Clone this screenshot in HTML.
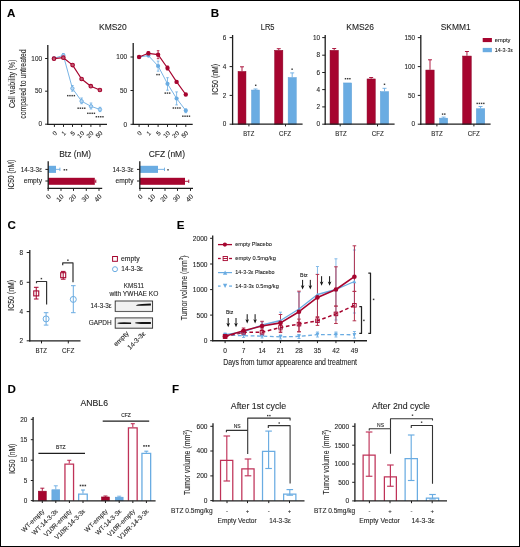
<!DOCTYPE html>
<html><head><meta charset="utf-8"><style>
html,body{margin:0;padding:0;background:#fff;}
svg{display:block;font-family:'Liberation Sans', sans-serif;-webkit-font-smoothing:antialiased;will-change:transform;}
text{stroke:#262626;stroke-width:0.1px;}
</style></head><body>
<svg width="520" height="547" viewBox="0 0 520 547">
<rect width="520" height="547" fill="#fff"/>
<rect x="0.5" y="0.5" width="519" height="546" fill="none" stroke="#000" stroke-width="1"/>
<text x="7.1" y="16.7" font-size="11.6" text-anchor="start" fill="#000" font-weight="bold">A</text>
<text x="210.8" y="16.8" font-size="11.6" text-anchor="start" fill="#000" font-weight="bold">B</text>
<text x="7.5" y="229.2" font-size="11.6" text-anchor="start" fill="#000" font-weight="bold">C</text>
<text x="7.5" y="392.5" font-size="11.6" text-anchor="start" fill="#000" font-weight="bold">D</text>
<text x="176.7" y="229.2" font-size="11.6" text-anchor="start" fill="#000" font-weight="bold">E</text>
<text x="172" y="392.5" font-size="11.6" text-anchor="start" fill="#000" font-weight="bold">F</text>
<text x="99" y="29.57" font-size="8.3" text-anchor="start" fill="#1e1e1e" textLength="27.8" lengthAdjust="spacingAndGlyphs">KMS20</text>
<line x1="47.8" y1="45" x2="47.8" y2="124.9" stroke="#1e1e1e" stroke-width="1.3" stroke-linecap="butt"/>
<line x1="47.2" y1="124.3" x2="107" y2="124.3" stroke="#1e1e1e" stroke-width="1.3" stroke-linecap="butt"/>
<line x1="45.1" y1="58.5" x2="47.8" y2="58.5" stroke="#1e1e1e" stroke-width="1" stroke-linecap="butt"/>
<text x="42" y="60.79" font-size="6.4" text-anchor="end" fill="#1e1e1e">100</text>
<line x1="45.1" y1="91.2" x2="47.8" y2="91.2" stroke="#1e1e1e" stroke-width="1" stroke-linecap="butt"/>
<text x="42" y="93.49" font-size="6.4" text-anchor="end" fill="#1e1e1e">50</text>
<line x1="45.1" y1="124.2" x2="47.8" y2="124.2" stroke="#1e1e1e" stroke-width="1" stroke-linecap="butt"/>
<text x="42" y="126.49" font-size="6.4" text-anchor="end" fill="#1e1e1e">0</text>
<line x1="54.4" y1="124.3" x2="54.4" y2="126.9" stroke="#1e1e1e" stroke-width="1" stroke-linecap="butt"/>
<text x="57.4" y="133.5" font-size="6.2" text-anchor="end" fill="#1e1e1e" transform="rotate(-45 57.4 133.5)" stroke="#333" stroke-width="0.22">0</text>
<line x1="63.5" y1="124.3" x2="63.5" y2="126.9" stroke="#1e1e1e" stroke-width="1" stroke-linecap="butt"/>
<text x="66.5" y="133.5" font-size="6.2" text-anchor="end" fill="#1e1e1e" transform="rotate(-45 66.5 133.5)" stroke="#333" stroke-width="0.22">1</text>
<line x1="72.5" y1="124.3" x2="72.5" y2="126.9" stroke="#1e1e1e" stroke-width="1" stroke-linecap="butt"/>
<text x="75.5" y="133.5" font-size="6.2" text-anchor="end" fill="#1e1e1e" transform="rotate(-45 75.5 133.5)" stroke="#333" stroke-width="0.22">5</text>
<line x1="81.6" y1="124.3" x2="81.6" y2="126.9" stroke="#1e1e1e" stroke-width="1" stroke-linecap="butt"/>
<text x="84.6" y="133.5" font-size="6.2" text-anchor="end" fill="#1e1e1e" transform="rotate(-45 84.6 133.5)" stroke="#333" stroke-width="0.22">10</text>
<line x1="90.9" y1="124.3" x2="90.9" y2="126.9" stroke="#1e1e1e" stroke-width="1" stroke-linecap="butt"/>
<text x="93.9" y="133.5" font-size="6.2" text-anchor="end" fill="#1e1e1e" transform="rotate(-45 93.9 133.5)" stroke="#333" stroke-width="0.22">20</text>
<line x1="100" y1="124.3" x2="100" y2="126.9" stroke="#1e1e1e" stroke-width="1" stroke-linecap="butt"/>
<text x="103" y="133.5" font-size="6.2" text-anchor="end" fill="#1e1e1e" transform="rotate(-45 103 133.5)" stroke="#333" stroke-width="0.22">50</text>
<line x1="63.35" y1="53.5" x2="63.35" y2="57.3" stroke="#6aace2" stroke-width="0.8" stroke-linecap="butt"/>
<line x1="62.05" y1="53.5" x2="64.65" y2="53.5" stroke="#6aace2" stroke-width="0.8" stroke-linecap="butt"/>
<line x1="62.05" y1="57.3" x2="64.65" y2="57.3" stroke="#6aace2" stroke-width="0.8" stroke-linecap="butt"/>
<line x1="72.4" y1="85.5" x2="72.4" y2="91.2" stroke="#6aace2" stroke-width="0.8" stroke-linecap="butt"/>
<line x1="71.1" y1="85.5" x2="73.7" y2="85.5" stroke="#6aace2" stroke-width="0.8" stroke-linecap="butt"/>
<line x1="71.1" y1="91.2" x2="73.7" y2="91.2" stroke="#6aace2" stroke-width="0.8" stroke-linecap="butt"/>
<line x1="81.6" y1="98" x2="81.6" y2="103.7" stroke="#6aace2" stroke-width="0.8" stroke-linecap="butt"/>
<line x1="80.3" y1="98" x2="82.9" y2="98" stroke="#6aace2" stroke-width="0.8" stroke-linecap="butt"/>
<line x1="80.3" y1="103.7" x2="82.9" y2="103.7" stroke="#6aace2" stroke-width="0.8" stroke-linecap="butt"/>
<line x1="91" y1="103" x2="91" y2="109" stroke="#6aace2" stroke-width="0.8" stroke-linecap="butt"/>
<line x1="89.7" y1="103" x2="92.3" y2="103" stroke="#6aace2" stroke-width="0.8" stroke-linecap="butt"/>
<line x1="89.7" y1="109" x2="92.3" y2="109" stroke="#6aace2" stroke-width="0.8" stroke-linecap="butt"/>
<line x1="100" y1="107.3" x2="100" y2="111.6" stroke="#6aace2" stroke-width="0.8" stroke-linecap="butt"/>
<line x1="98.7" y1="107.3" x2="101.3" y2="107.3" stroke="#6aace2" stroke-width="0.8" stroke-linecap="butt"/>
<line x1="98.7" y1="111.6" x2="101.3" y2="111.6" stroke="#6aace2" stroke-width="0.8" stroke-linecap="butt"/>
<polyline points="54,58.3 63.35,55.4 72.4,88.4 81.6,101.2 91,106.3 100,109.5" fill="none" stroke="#6aace2" stroke-width="0.9" stroke-linejoin="round"/>
<circle cx="54" cy="58.3" r="1.7" fill="#b9d8f3" stroke="#6aace2" stroke-width="0.9"/>
<circle cx="63.35" cy="55.4" r="1.7" fill="#b9d8f3" stroke="#6aace2" stroke-width="0.9"/>
<circle cx="72.4" cy="88.4" r="1.7" fill="#b9d8f3" stroke="#6aace2" stroke-width="0.9"/>
<circle cx="81.6" cy="101.2" r="1.7" fill="#b9d8f3" stroke="#6aace2" stroke-width="0.9"/>
<circle cx="91" cy="106.3" r="1.7" fill="#b9d8f3" stroke="#6aace2" stroke-width="0.9"/>
<circle cx="100" cy="109.5" r="1.7" fill="#b9d8f3" stroke="#6aace2" stroke-width="0.9"/>
<polyline points="54,58.7 63.35,57.7 72.6,65.1 81.6,79 90.8,86.2 99.9,90" fill="none" stroke="#a6052f" stroke-width="1.2" stroke-linejoin="round"/>
<circle cx="54" cy="58.7" r="1.8" fill="#c25a72" stroke="#a6052f" stroke-width="1.1"/>
<circle cx="63.35" cy="57.7" r="1.8" fill="#c25a72" stroke="#a6052f" stroke-width="1.1"/>
<circle cx="72.6" cy="65.1" r="1.8" fill="#c25a72" stroke="#a6052f" stroke-width="1.1"/>
<circle cx="81.6" cy="79" r="1.8" fill="#c25a72" stroke="#a6052f" stroke-width="1.1"/>
<circle cx="90.8" cy="86.2" r="1.8" fill="#c25a72" stroke="#a6052f" stroke-width="1.1"/>
<circle cx="99.9" cy="90" r="1.8" fill="#c25a72" stroke="#a6052f" stroke-width="1.1"/>
<rect x="67.03" y="94.93" width="1.45" height="1.45" fill="#3a3a3a"/>
<rect x="69.23" y="94.93" width="1.45" height="1.45" fill="#3a3a3a"/>
<rect x="71.43" y="94.93" width="1.45" height="1.45" fill="#3a3a3a"/>
<rect x="73.62" y="94.93" width="1.45" height="1.45" fill="#3a3a3a"/>
<rect x="77.43" y="107.48" width="1.45" height="1.45" fill="#3a3a3a"/>
<rect x="79.63" y="107.48" width="1.45" height="1.45" fill="#3a3a3a"/>
<rect x="81.83" y="107.48" width="1.45" height="1.45" fill="#3a3a3a"/>
<rect x="84.03" y="107.48" width="1.45" height="1.45" fill="#3a3a3a"/>
<rect x="87.08" y="112.58" width="1.45" height="1.45" fill="#3a3a3a"/>
<rect x="89.28" y="112.58" width="1.45" height="1.45" fill="#3a3a3a"/>
<rect x="91.48" y="112.58" width="1.45" height="1.45" fill="#3a3a3a"/>
<rect x="93.67" y="112.58" width="1.45" height="1.45" fill="#3a3a3a"/>
<rect x="95.63" y="116.03" width="1.45" height="1.45" fill="#3a3a3a"/>
<rect x="97.83" y="116.03" width="1.45" height="1.45" fill="#3a3a3a"/>
<rect x="100.03" y="116.03" width="1.45" height="1.45" fill="#3a3a3a"/>
<rect x="102.23" y="116.03" width="1.45" height="1.45" fill="#3a3a3a"/>
<line x1="133.2" y1="42.9" x2="133.2" y2="124.9" stroke="#1e1e1e" stroke-width="1.3" stroke-linecap="butt"/>
<line x1="132.6" y1="124.3" x2="192.7" y2="124.3" stroke="#1e1e1e" stroke-width="1.3" stroke-linecap="butt"/>
<line x1="130.5" y1="57" x2="133.2" y2="57" stroke="#1e1e1e" stroke-width="1" stroke-linecap="butt"/>
<text x="127" y="59.29" font-size="6.4" text-anchor="end" fill="#1e1e1e">100</text>
<line x1="130.5" y1="90.5" x2="133.2" y2="90.5" stroke="#1e1e1e" stroke-width="1" stroke-linecap="butt"/>
<text x="127" y="92.79" font-size="6.4" text-anchor="end" fill="#1e1e1e">50</text>
<line x1="130.5" y1="124.3" x2="133.2" y2="124.3" stroke="#1e1e1e" stroke-width="1" stroke-linecap="butt"/>
<text x="127" y="126.59" font-size="6.4" text-anchor="end" fill="#1e1e1e">0</text>
<line x1="139.1" y1="124.3" x2="139.1" y2="126.9" stroke="#1e1e1e" stroke-width="1" stroke-linecap="butt"/>
<text x="142.1" y="133.5" font-size="6.2" text-anchor="end" fill="#1e1e1e" transform="rotate(-45 142.1 133.5)" stroke="#333" stroke-width="0.22">0</text>
<line x1="148.4" y1="124.3" x2="148.4" y2="126.9" stroke="#1e1e1e" stroke-width="1" stroke-linecap="butt"/>
<text x="151.4" y="133.5" font-size="6.2" text-anchor="end" fill="#1e1e1e" transform="rotate(-45 151.4 133.5)" stroke="#333" stroke-width="0.22">1</text>
<line x1="158.1" y1="124.3" x2="158.1" y2="126.9" stroke="#1e1e1e" stroke-width="1" stroke-linecap="butt"/>
<text x="161.1" y="133.5" font-size="6.2" text-anchor="end" fill="#1e1e1e" transform="rotate(-45 161.1 133.5)" stroke="#333" stroke-width="0.22">5</text>
<line x1="167.5" y1="124.3" x2="167.5" y2="126.9" stroke="#1e1e1e" stroke-width="1" stroke-linecap="butt"/>
<text x="170.5" y="133.5" font-size="6.2" text-anchor="end" fill="#1e1e1e" transform="rotate(-45 170.5 133.5)" stroke="#333" stroke-width="0.22">10</text>
<line x1="176.6" y1="124.3" x2="176.6" y2="126.9" stroke="#1e1e1e" stroke-width="1" stroke-linecap="butt"/>
<text x="179.6" y="133.5" font-size="6.2" text-anchor="end" fill="#1e1e1e" transform="rotate(-45 179.6 133.5)" stroke="#333" stroke-width="0.22">20</text>
<line x1="185.8" y1="124.3" x2="185.8" y2="126.9" stroke="#1e1e1e" stroke-width="1" stroke-linecap="butt"/>
<text x="188.8" y="133.5" font-size="6.2" text-anchor="end" fill="#1e1e1e" transform="rotate(-45 188.8 133.5)" stroke="#333" stroke-width="0.22">50</text>
<line x1="158.1" y1="61.1" x2="158.1" y2="71.2" stroke="#6aace2" stroke-width="0.8" stroke-linecap="butt"/>
<line x1="156.8" y1="61.1" x2="159.4" y2="61.1" stroke="#6aace2" stroke-width="0.8" stroke-linecap="butt"/>
<line x1="156.8" y1="71.2" x2="159.4" y2="71.2" stroke="#6aace2" stroke-width="0.8" stroke-linecap="butt"/>
<line x1="167.5" y1="77.7" x2="167.5" y2="90.2" stroke="#6aace2" stroke-width="0.8" stroke-linecap="butt"/>
<line x1="166.2" y1="77.7" x2="168.8" y2="77.7" stroke="#6aace2" stroke-width="0.8" stroke-linecap="butt"/>
<line x1="166.2" y1="90.2" x2="168.8" y2="90.2" stroke="#6aace2" stroke-width="0.8" stroke-linecap="butt"/>
<line x1="176.6" y1="91.9" x2="176.6" y2="104.9" stroke="#6aace2" stroke-width="0.8" stroke-linecap="butt"/>
<line x1="175.3" y1="91.9" x2="177.9" y2="91.9" stroke="#6aace2" stroke-width="0.8" stroke-linecap="butt"/>
<line x1="175.3" y1="104.9" x2="177.9" y2="104.9" stroke="#6aace2" stroke-width="0.8" stroke-linecap="butt"/>
<line x1="185.8" y1="108.9" x2="185.8" y2="112.7" stroke="#6aace2" stroke-width="0.8" stroke-linecap="butt"/>
<line x1="184.5" y1="108.9" x2="187.1" y2="108.9" stroke="#6aace2" stroke-width="0.8" stroke-linecap="butt"/>
<line x1="184.5" y1="112.7" x2="187.1" y2="112.7" stroke="#6aace2" stroke-width="0.8" stroke-linecap="butt"/>
<polyline points="139.1,57 148.4,55.6 158.1,66 167.5,83.8 176.6,98.5 185.8,110.6" fill="none" stroke="#6aace2" stroke-width="0.9" stroke-linejoin="round"/>
<circle cx="139.1" cy="57" r="2.1" fill="#6aace2"/>
<circle cx="148.4" cy="55.6" r="2.1" fill="#6aace2"/>
<circle cx="158.1" cy="66" r="2.1" fill="#6aace2"/>
<circle cx="167.5" cy="83.8" r="2.1" fill="#6aace2"/>
<circle cx="176.6" cy="98.5" r="2.1" fill="#6aace2"/>
<circle cx="185.8" cy="110.6" r="2.1" fill="#6aace2"/>
<line x1="148.4" y1="51.8" x2="148.4" y2="54.8" stroke="#a6052f" stroke-width="0.8" stroke-linecap="butt"/>
<line x1="147.1" y1="51.8" x2="149.7" y2="51.8" stroke="#a6052f" stroke-width="0.8" stroke-linecap="butt"/>
<line x1="147.1" y1="54.8" x2="149.7" y2="54.8" stroke="#a6052f" stroke-width="0.8" stroke-linecap="butt"/>
<line x1="158.1" y1="50.7" x2="158.1" y2="58.7" stroke="#a6052f" stroke-width="0.8" stroke-linecap="butt"/>
<line x1="156.8" y1="50.7" x2="159.4" y2="50.7" stroke="#a6052f" stroke-width="0.8" stroke-linecap="butt"/>
<line x1="156.8" y1="58.7" x2="159.4" y2="58.7" stroke="#a6052f" stroke-width="0.8" stroke-linecap="butt"/>
<line x1="167.5" y1="66" x2="167.5" y2="70" stroke="#a6052f" stroke-width="0.8" stroke-linecap="butt"/>
<line x1="166.2" y1="66" x2="168.8" y2="66" stroke="#a6052f" stroke-width="0.8" stroke-linecap="butt"/>
<line x1="166.2" y1="70" x2="168.8" y2="70" stroke="#a6052f" stroke-width="0.8" stroke-linecap="butt"/>
<polyline points="139.1,57 148.4,53.3 158.1,54.7 167.5,68 176.6,81.9 185.8,94.5" fill="none" stroke="#a6052f" stroke-width="1.2" stroke-linejoin="round"/>
<circle cx="139.1" cy="57" r="2.2" fill="#a6052f"/>
<circle cx="148.4" cy="53.3" r="2.2" fill="#a6052f"/>
<circle cx="158.1" cy="54.7" r="2.2" fill="#a6052f"/>
<circle cx="167.5" cy="68" r="2.2" fill="#a6052f"/>
<circle cx="176.6" cy="81.9" r="2.2" fill="#a6052f"/>
<circle cx="185.8" cy="94.5" r="2.2" fill="#a6052f"/>
<rect x="156.23" y="73.88" width="1.45" height="1.45" fill="#3a3a3a"/>
<rect x="158.43" y="73.88" width="1.45" height="1.45" fill="#3a3a3a"/>
<rect x="164.53" y="92.38" width="1.45" height="1.45" fill="#3a3a3a"/>
<rect x="166.72" y="92.38" width="1.45" height="1.45" fill="#3a3a3a"/>
<rect x="168.93" y="92.38" width="1.45" height="1.45" fill="#3a3a3a"/>
<rect x="172.62" y="107.28" width="1.45" height="1.45" fill="#3a3a3a"/>
<rect x="174.82" y="107.28" width="1.45" height="1.45" fill="#3a3a3a"/>
<rect x="177.03" y="107.28" width="1.45" height="1.45" fill="#3a3a3a"/>
<rect x="179.22" y="107.28" width="1.45" height="1.45" fill="#3a3a3a"/>
<rect x="182.12" y="115.48" width="1.45" height="1.45" fill="#3a3a3a"/>
<rect x="184.32" y="115.48" width="1.45" height="1.45" fill="#3a3a3a"/>
<rect x="186.53" y="115.48" width="1.45" height="1.45" fill="#3a3a3a"/>
<rect x="188.72" y="115.48" width="1.45" height="1.45" fill="#3a3a3a"/>
<text x="15.3" y="107.9" font-size="8.5" text-anchor="start" fill="#1e1e1e" transform="rotate(-90 15.3 107.9)" textLength="48.3" lengthAdjust="spacingAndGlyphs">Cell viability (%)</text>
<text x="25.9" y="118.8" font-size="8.5" text-anchor="start" fill="#1e1e1e" transform="rotate(-90 25.9 118.8)" textLength="69.4" lengthAdjust="spacingAndGlyphs">compared to untreated</text>
<text x="59.2" y="156.84" font-size="8.5" text-anchor="start" fill="#1e1e1e" textLength="31.8" lengthAdjust="spacingAndGlyphs">Btz (nM)</text>
<rect x="48.2" y="165.8" width="7.8" height="7.1" fill="#6aace2"/>
<line x1="56" y1="169.35" x2="59.9" y2="169.35" stroke="#6aace2" stroke-width="0.9" stroke-linecap="butt"/>
<line x1="59.9" y1="167.65" x2="59.9" y2="171.05" stroke="#6aace2" stroke-width="0.9" stroke-linecap="butt"/>
<rect x="48.2" y="177.8" width="46.6" height="7" fill="#a6052f"/>
<line x1="94.8" y1="181.3" x2="95.8" y2="181.3" stroke="#a6052f" stroke-width="0.9" stroke-linecap="butt"/>
<line x1="95.8" y1="179.6" x2="95.8" y2="183" stroke="#a6052f" stroke-width="0.9" stroke-linecap="butt"/>
<line x1="48.2" y1="161.3" x2="48.2" y2="189" stroke="#1e1e1e" stroke-width="1.3" stroke-linecap="butt"/>
<line x1="47.6" y1="188.4" x2="102.2" y2="188.4" stroke="#1e1e1e" stroke-width="1.3" stroke-linecap="butt"/>
<line x1="45.4" y1="169.4" x2="48.2" y2="169.4" stroke="#1e1e1e" stroke-width="1" stroke-linecap="butt"/>
<line x1="45.4" y1="181" x2="48.2" y2="181" stroke="#1e1e1e" stroke-width="1" stroke-linecap="butt"/>
<line x1="48.2" y1="188.4" x2="48.2" y2="190.9" stroke="#1e1e1e" stroke-width="1" stroke-linecap="butt"/>
<text x="51.4" y="197" font-size="6.6" text-anchor="end" fill="#1e1e1e" transform="rotate(-45 51.4 197)" stroke="#333" stroke-width="0.22">0</text>
<line x1="61" y1="188.4" x2="61" y2="190.9" stroke="#1e1e1e" stroke-width="1" stroke-linecap="butt"/>
<text x="64.2" y="197" font-size="6.6" text-anchor="end" fill="#1e1e1e" transform="rotate(-45 64.2 197)" stroke="#333" stroke-width="0.22">10</text>
<line x1="73.5" y1="188.4" x2="73.5" y2="190.9" stroke="#1e1e1e" stroke-width="1" stroke-linecap="butt"/>
<text x="76.7" y="197" font-size="6.6" text-anchor="end" fill="#1e1e1e" transform="rotate(-45 76.7 197)" stroke="#333" stroke-width="0.22">20</text>
<line x1="86.3" y1="188.4" x2="86.3" y2="190.9" stroke="#1e1e1e" stroke-width="1" stroke-linecap="butt"/>
<text x="89.5" y="197" font-size="6.6" text-anchor="end" fill="#1e1e1e" transform="rotate(-45 89.5 197)" stroke="#333" stroke-width="0.22">30</text>
<line x1="99" y1="188.4" x2="99" y2="190.9" stroke="#1e1e1e" stroke-width="1" stroke-linecap="butt"/>
<text x="102.2" y="197" font-size="6.6" text-anchor="end" fill="#1e1e1e" transform="rotate(-45 102.2 197)" stroke="#333" stroke-width="0.22">40</text>
<rect x="63.58" y="169.08" width="1.45" height="1.45" fill="#3a3a3a"/>
<rect x="65.78" y="169.08" width="1.45" height="1.45" fill="#3a3a3a"/>
<text x="20.7" y="171.56" font-size="6.3" text-anchor="start" fill="#1e1e1e" textLength="21.3" lengthAdjust="spacingAndGlyphs">14-3-3ε</text>
<text x="23.8" y="183.26" font-size="6.3" text-anchor="start" fill="#1e1e1e" textLength="18.2" lengthAdjust="spacingAndGlyphs">empty</text>
<text x="14.4" y="189.4" font-size="8.7" text-anchor="start" fill="#1e1e1e" transform="rotate(-90 14.4 189.4)" textLength="29.6" lengthAdjust="spacingAndGlyphs">IC50 (nM)</text>
<text x="148.75" y="156.84" font-size="8.5" text-anchor="start" fill="#1e1e1e" textLength="36.25" lengthAdjust="spacingAndGlyphs">CFZ (nM)</text>
<rect x="139.8" y="165.8" width="18.2" height="7.1" fill="#6aace2"/>
<line x1="158" y1="169.35" x2="164.5" y2="169.35" stroke="#6aace2" stroke-width="0.9" stroke-linecap="butt"/>
<line x1="164.5" y1="167.65" x2="164.5" y2="171.05" stroke="#6aace2" stroke-width="0.9" stroke-linecap="butt"/>
<rect x="139.8" y="177.8" width="45.2" height="7" fill="#a6052f"/>
<line x1="185" y1="181.3" x2="188.75" y2="181.3" stroke="#a6052f" stroke-width="0.9" stroke-linecap="butt"/>
<line x1="188.75" y1="179.6" x2="188.75" y2="183" stroke="#a6052f" stroke-width="0.9" stroke-linecap="butt"/>
<line x1="139.8" y1="161.3" x2="139.8" y2="189" stroke="#1e1e1e" stroke-width="1.3" stroke-linecap="butt"/>
<line x1="139.2" y1="188.4" x2="193" y2="188.4" stroke="#1e1e1e" stroke-width="1.3" stroke-linecap="butt"/>
<line x1="137" y1="169.4" x2="139.8" y2="169.4" stroke="#1e1e1e" stroke-width="1" stroke-linecap="butt"/>
<line x1="137" y1="181" x2="139.8" y2="181" stroke="#1e1e1e" stroke-width="1" stroke-linecap="butt"/>
<line x1="140" y1="188.4" x2="140" y2="190.9" stroke="#1e1e1e" stroke-width="1" stroke-linecap="butt"/>
<text x="143.2" y="197" font-size="6.6" text-anchor="end" fill="#1e1e1e" transform="rotate(-45 143.2 197)" stroke="#333" stroke-width="0.22">0</text>
<line x1="152.5" y1="188.4" x2="152.5" y2="190.9" stroke="#1e1e1e" stroke-width="1" stroke-linecap="butt"/>
<text x="155.7" y="197" font-size="6.6" text-anchor="end" fill="#1e1e1e" transform="rotate(-45 155.7 197)" stroke="#333" stroke-width="0.22">10</text>
<line x1="165" y1="188.4" x2="165" y2="190.9" stroke="#1e1e1e" stroke-width="1" stroke-linecap="butt"/>
<text x="168.2" y="197" font-size="6.6" text-anchor="end" fill="#1e1e1e" transform="rotate(-45 168.2 197)" stroke="#333" stroke-width="0.22">20</text>
<line x1="177.5" y1="188.4" x2="177.5" y2="190.9" stroke="#1e1e1e" stroke-width="1" stroke-linecap="butt"/>
<text x="180.7" y="197" font-size="6.6" text-anchor="end" fill="#1e1e1e" transform="rotate(-45 180.7 197)" stroke="#333" stroke-width="0.22">30</text>
<line x1="190.5" y1="188.4" x2="190.5" y2="190.9" stroke="#1e1e1e" stroke-width="1" stroke-linecap="butt"/>
<text x="193.7" y="197" font-size="6.6" text-anchor="end" fill="#1e1e1e" transform="rotate(-45 193.7 197)" stroke="#333" stroke-width="0.22">40</text>
<rect x="167.28" y="169.08" width="1.45" height="1.45" fill="#3a3a3a"/>
<text x="112.5" y="171.56" font-size="6.3" text-anchor="start" fill="#1e1e1e" textLength="21" lengthAdjust="spacingAndGlyphs">14-3-3ε</text>
<text x="115.5" y="183.26" font-size="6.3" text-anchor="start" fill="#1e1e1e" textLength="18" lengthAdjust="spacingAndGlyphs">empty</text>
<rect x="238.05" y="71.45" width="7.9" height="52.75" fill="#a6052f" stroke="#8c0026" stroke-width="0.5"/>
<line x1="242" y1="71.2" x2="242" y2="66.8" stroke="#a6052f" stroke-width="0.9" stroke-linecap="butt"/>
<line x1="240" y1="66.8" x2="244" y2="66.8" stroke="#a6052f" stroke-width="0.9" stroke-linecap="butt"/>
<rect x="251.55" y="90.05" width="7.9" height="34.15" fill="#6aace2" stroke="#5d9fd8" stroke-width="0.5"/>
<line x1="255.5" y1="89.8" x2="255.5" y2="89" stroke="#6aace2" stroke-width="0.9" stroke-linecap="butt"/>
<line x1="253.5" y1="89" x2="257.5" y2="89" stroke="#6aace2" stroke-width="0.9" stroke-linecap="butt"/>
<rect x="274.65" y="50.35" width="8.2" height="73.85" fill="#a6052f" stroke="#8c0026" stroke-width="0.5"/>
<line x1="278.75" y1="50.1" x2="278.75" y2="48.7" stroke="#a6052f" stroke-width="0.9" stroke-linecap="butt"/>
<line x1="276.75" y1="48.7" x2="280.75" y2="48.7" stroke="#a6052f" stroke-width="0.9" stroke-linecap="butt"/>
<rect x="288.15" y="77.55" width="8.1" height="46.65" fill="#6aace2" stroke="#5d9fd8" stroke-width="0.5"/>
<line x1="292.2" y1="77.3" x2="292.2" y2="72.9" stroke="#6aace2" stroke-width="0.9" stroke-linecap="butt"/>
<line x1="290.2" y1="72.9" x2="294.2" y2="72.9" stroke="#6aace2" stroke-width="0.9" stroke-linecap="butt"/>
<line x1="232.6" y1="35" x2="232.6" y2="124.8" stroke="#1e1e1e" stroke-width="1.3" stroke-linecap="butt"/>
<line x1="232" y1="124.2" x2="302.6" y2="124.2" stroke="#1e1e1e" stroke-width="1.3" stroke-linecap="butt"/>
<line x1="229.6" y1="37.6" x2="232.6" y2="37.6" stroke="#1e1e1e" stroke-width="1" stroke-linecap="butt"/>
<text x="226.3" y="39.89" font-size="6.4" text-anchor="end" fill="#1e1e1e">6</text>
<line x1="229.6" y1="66.6" x2="232.6" y2="66.6" stroke="#1e1e1e" stroke-width="1" stroke-linecap="butt"/>
<text x="226.3" y="68.89" font-size="6.4" text-anchor="end" fill="#1e1e1e">4</text>
<line x1="229.6" y1="95.4" x2="232.6" y2="95.4" stroke="#1e1e1e" stroke-width="1" stroke-linecap="butt"/>
<text x="226.3" y="97.69" font-size="6.4" text-anchor="end" fill="#1e1e1e">2</text>
<line x1="229.6" y1="124.2" x2="232.6" y2="124.2" stroke="#1e1e1e" stroke-width="1" stroke-linecap="butt"/>
<text x="226.3" y="126.49" font-size="6.4" text-anchor="end" fill="#1e1e1e">0</text>
<line x1="248.9" y1="124.2" x2="248.9" y2="126.4" stroke="#1e1e1e" stroke-width="1" stroke-linecap="butt"/>
<line x1="285.5" y1="124.2" x2="285.5" y2="126.4" stroke="#1e1e1e" stroke-width="1" stroke-linecap="butt"/>
<text x="243.2" y="136.39" font-size="6.4" text-anchor="start" fill="#1e1e1e" textLength="11.1" lengthAdjust="spacingAndGlyphs">BTZ</text>
<text x="279" y="136.39" font-size="6.4" text-anchor="start" fill="#1e1e1e" textLength="12.1" lengthAdjust="spacingAndGlyphs">CFZ</text>
<rect x="254.97" y="84.58" width="1.45" height="1.45" fill="#3a3a3a"/>
<rect x="291.38" y="68.48" width="1.45" height="1.45" fill="#3a3a3a"/>
<text x="260.75" y="29.57" font-size="8.3" text-anchor="start" fill="#1e1e1e" textLength="13.75" lengthAdjust="spacingAndGlyphs">LR5</text>
<text x="218.2" y="94.7" font-size="9" text-anchor="start" fill="#1e1e1e" transform="rotate(-90 218.2 94.7)" textLength="30.9" lengthAdjust="spacingAndGlyphs">IC50 (nM)</text>
<rect x="330.05" y="50.35" width="8.3" height="73.85" fill="#a6052f" stroke="#8c0026" stroke-width="0.5"/>
<line x1="334.2" y1="50.1" x2="334.2" y2="48.5" stroke="#a6052f" stroke-width="0.9" stroke-linecap="butt"/>
<line x1="332.2" y1="48.5" x2="336.2" y2="48.5" stroke="#a6052f" stroke-width="0.9" stroke-linecap="butt"/>
<rect x="343.55" y="82.95" width="8.1" height="41.25" fill="#6aace2" stroke="#5d9fd8" stroke-width="0.5"/>
<rect x="367.05" y="78.95" width="8.2" height="45.25" fill="#a6052f" stroke="#8c0026" stroke-width="0.5"/>
<line x1="371.15" y1="78.7" x2="371.15" y2="77.5" stroke="#a6052f" stroke-width="0.9" stroke-linecap="butt"/>
<line x1="369.15" y1="77.5" x2="373.15" y2="77.5" stroke="#a6052f" stroke-width="0.9" stroke-linecap="butt"/>
<rect x="380.35" y="91.65" width="8.3" height="32.55" fill="#6aace2" stroke="#5d9fd8" stroke-width="0.5"/>
<line x1="384.5" y1="91.4" x2="384.5" y2="88.3" stroke="#6aace2" stroke-width="0.9" stroke-linecap="butt"/>
<line x1="382.5" y1="88.3" x2="386.5" y2="88.3" stroke="#6aace2" stroke-width="0.9" stroke-linecap="butt"/>
<line x1="325.2" y1="35" x2="325.2" y2="124.8" stroke="#1e1e1e" stroke-width="1.3" stroke-linecap="butt"/>
<line x1="324.6" y1="124.2" x2="394.6" y2="124.2" stroke="#1e1e1e" stroke-width="1.3" stroke-linecap="butt"/>
<line x1="322.2" y1="37.6" x2="325.2" y2="37.6" stroke="#1e1e1e" stroke-width="1" stroke-linecap="butt"/>
<text x="320.1" y="39.89" font-size="6.4" text-anchor="end" fill="#1e1e1e">10</text>
<line x1="322.2" y1="55.2" x2="325.2" y2="55.2" stroke="#1e1e1e" stroke-width="1" stroke-linecap="butt"/>
<text x="320.1" y="57.49" font-size="6.4" text-anchor="end" fill="#1e1e1e">8</text>
<line x1="322.2" y1="72.5" x2="325.2" y2="72.5" stroke="#1e1e1e" stroke-width="1" stroke-linecap="butt"/>
<text x="320.1" y="74.79" font-size="6.4" text-anchor="end" fill="#1e1e1e">6</text>
<line x1="322.2" y1="89.6" x2="325.2" y2="89.6" stroke="#1e1e1e" stroke-width="1" stroke-linecap="butt"/>
<text x="320.1" y="91.89" font-size="6.4" text-anchor="end" fill="#1e1e1e">4</text>
<line x1="322.2" y1="106.9" x2="325.2" y2="106.9" stroke="#1e1e1e" stroke-width="1" stroke-linecap="butt"/>
<text x="320.1" y="109.19" font-size="6.4" text-anchor="end" fill="#1e1e1e">2</text>
<line x1="322.2" y1="124.2" x2="325.2" y2="124.2" stroke="#1e1e1e" stroke-width="1" stroke-linecap="butt"/>
<text x="320.1" y="126.49" font-size="6.4" text-anchor="end" fill="#1e1e1e">0</text>
<line x1="340.2" y1="124.2" x2="340.2" y2="126.4" stroke="#1e1e1e" stroke-width="1" stroke-linecap="butt"/>
<line x1="377.5" y1="124.2" x2="377.5" y2="126.4" stroke="#1e1e1e" stroke-width="1" stroke-linecap="butt"/>
<text x="335.2" y="136.39" font-size="6.4" text-anchor="start" fill="#1e1e1e" textLength="11.5" lengthAdjust="spacingAndGlyphs">BTZ</text>
<text x="371.8" y="136.39" font-size="6.4" text-anchor="start" fill="#1e1e1e" textLength="12.1" lengthAdjust="spacingAndGlyphs">CFZ</text>
<rect x="344.77" y="77.98" width="1.45" height="1.45" fill="#3a3a3a"/>
<rect x="346.97" y="77.98" width="1.45" height="1.45" fill="#3a3a3a"/>
<rect x="349.17" y="77.98" width="1.45" height="1.45" fill="#3a3a3a"/>
<rect x="383.77" y="83.58" width="1.45" height="1.45" fill="#3a3a3a"/>
<text x="346.25" y="29.57" font-size="8.3" text-anchor="start" fill="#1e1e1e" textLength="27.75" lengthAdjust="spacingAndGlyphs">KMS26</text>
<rect x="425.85" y="70.05" width="8.3" height="54.15" fill="#a6052f" stroke="#8c0026" stroke-width="0.5"/>
<line x1="430" y1="69.8" x2="430" y2="59.8" stroke="#a6052f" stroke-width="0.9" stroke-linecap="butt"/>
<line x1="428" y1="59.8" x2="432" y2="59.8" stroke="#a6052f" stroke-width="0.9" stroke-linecap="butt"/>
<rect x="439.55" y="118.15" width="8.1" height="6.05" fill="#6aace2" stroke="#5d9fd8" stroke-width="0.5"/>
<line x1="443.6" y1="117.9" x2="443.6" y2="117.1" stroke="#6aace2" stroke-width="0.9" stroke-linecap="butt"/>
<line x1="441.6" y1="117.1" x2="445.6" y2="117.1" stroke="#6aace2" stroke-width="0.9" stroke-linecap="butt"/>
<rect x="462.65" y="56.05" width="8.6" height="68.15" fill="#a6052f" stroke="#8c0026" stroke-width="0.5"/>
<line x1="466.95" y1="55.8" x2="466.95" y2="51.5" stroke="#a6052f" stroke-width="0.9" stroke-linecap="butt"/>
<line x1="464.95" y1="51.5" x2="468.95" y2="51.5" stroke="#a6052f" stroke-width="0.9" stroke-linecap="butt"/>
<rect x="476.35" y="108.75" width="8.4" height="15.45" fill="#6aace2" stroke="#5d9fd8" stroke-width="0.5"/>
<line x1="480.55" y1="108.5" x2="480.55" y2="106.5" stroke="#6aace2" stroke-width="0.9" stroke-linecap="butt"/>
<line x1="478.55" y1="106.5" x2="482.55" y2="106.5" stroke="#6aace2" stroke-width="0.9" stroke-linecap="butt"/>
<line x1="420.8" y1="35" x2="420.8" y2="124.8" stroke="#1e1e1e" stroke-width="1.3" stroke-linecap="butt"/>
<line x1="420.2" y1="124.2" x2="490.6" y2="124.2" stroke="#1e1e1e" stroke-width="1.3" stroke-linecap="butt"/>
<line x1="417.8" y1="37.6" x2="420.8" y2="37.6" stroke="#1e1e1e" stroke-width="1" stroke-linecap="butt"/>
<text x="415.1" y="39.89" font-size="6.4" text-anchor="end" fill="#1e1e1e">150</text>
<line x1="417.8" y1="66.6" x2="420.8" y2="66.6" stroke="#1e1e1e" stroke-width="1" stroke-linecap="butt"/>
<text x="415.1" y="68.89" font-size="6.4" text-anchor="end" fill="#1e1e1e">100</text>
<line x1="417.8" y1="95.4" x2="420.8" y2="95.4" stroke="#1e1e1e" stroke-width="1" stroke-linecap="butt"/>
<text x="415.1" y="97.69" font-size="6.4" text-anchor="end" fill="#1e1e1e">50</text>
<line x1="417.8" y1="124.2" x2="420.8" y2="124.2" stroke="#1e1e1e" stroke-width="1" stroke-linecap="butt"/>
<text x="415.1" y="126.49" font-size="6.4" text-anchor="end" fill="#1e1e1e">0</text>
<line x1="436.9" y1="124.2" x2="436.9" y2="126.4" stroke="#1e1e1e" stroke-width="1" stroke-linecap="butt"/>
<line x1="473.9" y1="124.2" x2="473.9" y2="126.4" stroke="#1e1e1e" stroke-width="1" stroke-linecap="butt"/>
<text x="431.2" y="136.39" font-size="6.4" text-anchor="start" fill="#1e1e1e" textLength="11.5" lengthAdjust="spacingAndGlyphs">BTZ</text>
<text x="467.8" y="136.39" font-size="6.4" text-anchor="start" fill="#1e1e1e" textLength="12.1" lengthAdjust="spacingAndGlyphs">CFZ</text>
<rect x="441.87" y="113.38" width="1.45" height="1.45" fill="#3a3a3a"/>
<rect x="444.07" y="113.38" width="1.45" height="1.45" fill="#3a3a3a"/>
<rect x="476.47" y="102.68" width="1.45" height="1.45" fill="#3a3a3a"/>
<rect x="478.67" y="102.68" width="1.45" height="1.45" fill="#3a3a3a"/>
<rect x="480.87" y="102.68" width="1.45" height="1.45" fill="#3a3a3a"/>
<rect x="483.07" y="102.68" width="1.45" height="1.45" fill="#3a3a3a"/>
<text x="440.75" y="29.57" font-size="8.3" text-anchor="start" fill="#1e1e1e" textLength="30" lengthAdjust="spacingAndGlyphs">SKMM1</text>
<rect x="482.7" y="38" width="9.2" height="4.1" fill="#a6052f"/>
<rect x="482.7" y="47.9" width="9.2" height="4.3" fill="#6aace2"/>
<text x="494.8" y="42.13" font-size="5.4" text-anchor="start" fill="#1e1e1e" textLength="15.6" lengthAdjust="spacingAndGlyphs">empty</text>
<text x="494.8" y="52.03" font-size="5.4" text-anchor="start" fill="#1e1e1e" textLength="18" lengthAdjust="spacingAndGlyphs">14-3-3ε</text>
<line x1="29.8" y1="250.1" x2="29.8" y2="341.4" stroke="#1e1e1e" stroke-width="1.3" stroke-linecap="butt"/>
<line x1="29.2" y1="340.8" x2="80.5" y2="340.8" stroke="#1e1e1e" stroke-width="1.3" stroke-linecap="butt"/>
<line x1="26.7" y1="252.5" x2="29.8" y2="252.5" stroke="#1e1e1e" stroke-width="1" stroke-linecap="butt"/>
<text x="23.1" y="254.79" font-size="6.4" text-anchor="end" fill="#1e1e1e">8</text>
<line x1="26.7" y1="282.3" x2="29.8" y2="282.3" stroke="#1e1e1e" stroke-width="1" stroke-linecap="butt"/>
<text x="23.1" y="284.59" font-size="6.4" text-anchor="end" fill="#1e1e1e">6</text>
<line x1="26.7" y1="311.6" x2="29.8" y2="311.6" stroke="#1e1e1e" stroke-width="1" stroke-linecap="butt"/>
<text x="23.1" y="313.89" font-size="6.4" text-anchor="end" fill="#1e1e1e">4</text>
<line x1="26.7" y1="340.8" x2="29.8" y2="340.8" stroke="#1e1e1e" stroke-width="1" stroke-linecap="butt"/>
<text x="23.1" y="343.09" font-size="6.4" text-anchor="end" fill="#1e1e1e">2</text>
<line x1="41.5" y1="340.8" x2="41.5" y2="343.4" stroke="#1e1e1e" stroke-width="1" stroke-linecap="butt"/>
<line x1="68.3" y1="340.8" x2="68.3" y2="343.4" stroke="#1e1e1e" stroke-width="1" stroke-linecap="butt"/>
<text x="35.5" y="352.79" font-size="6.4" text-anchor="start" fill="#1e1e1e" textLength="11.5" lengthAdjust="spacingAndGlyphs">BTZ</text>
<text x="62" y="352.79" font-size="6.4" text-anchor="start" fill="#1e1e1e" textLength="12.4" lengthAdjust="spacingAndGlyphs">CFZ</text>
<text x="14.4" y="310.8" font-size="8.7" text-anchor="start" fill="#1e1e1e" transform="rotate(-90 14.4 310.8)" textLength="31" lengthAdjust="spacingAndGlyphs">IC50 (nM)</text>
<line x1="36.25" y1="287.3" x2="36.25" y2="299" stroke="#a6052f" stroke-width="1" stroke-linecap="butt"/>
<line x1="33.95" y1="287.3" x2="38.55" y2="287.3" stroke="#a6052f" stroke-width="1" stroke-linecap="butt"/>
<line x1="33.95" y1="299" x2="38.55" y2="299" stroke="#a6052f" stroke-width="1" stroke-linecap="butt"/>
<rect x="33.75" y="290.9" width="5" height="5" fill="none" stroke="#a6052f" stroke-width="1.1"/>
<line x1="63.2" y1="271.4" x2="63.2" y2="279.2" stroke="#a6052f" stroke-width="1" stroke-linecap="butt"/>
<line x1="60.9" y1="271.4" x2="65.5" y2="271.4" stroke="#a6052f" stroke-width="1" stroke-linecap="butt"/>
<line x1="60.9" y1="279.2" x2="65.5" y2="279.2" stroke="#a6052f" stroke-width="1" stroke-linecap="butt"/>
<rect x="60.7" y="272.7" width="5" height="5" fill="none" stroke="#a6052f" stroke-width="1.1"/>
<line x1="46.1" y1="312.7" x2="46.1" y2="325.1" stroke="#6aace2" stroke-width="1" stroke-linecap="butt"/>
<line x1="43.8" y1="312.7" x2="48.4" y2="312.7" stroke="#6aace2" stroke-width="1" stroke-linecap="butt"/>
<line x1="43.8" y1="325.1" x2="48.4" y2="325.1" stroke="#6aace2" stroke-width="1" stroke-linecap="butt"/>
<circle cx="46.1" cy="318.9" r="3" fill="none" stroke="#6aace2" stroke-width="1"/>
<line x1="73.3" y1="285.7" x2="73.3" y2="312.7" stroke="#6aace2" stroke-width="1" stroke-linecap="butt"/>
<line x1="71" y1="285.7" x2="75.6" y2="285.7" stroke="#6aace2" stroke-width="1" stroke-linecap="butt"/>
<line x1="71" y1="312.7" x2="75.6" y2="312.7" stroke="#6aace2" stroke-width="1" stroke-linecap="butt"/>
<circle cx="73.3" cy="299.4" r="3" fill="none" stroke="#6aace2" stroke-width="1"/>
<polyline points="36.5,283.3 36.5,281.5 46.6,281.5 46.6,304.4" fill="none" stroke="#333" stroke-width="1.2" stroke-linejoin="round"/>
<polyline points="62.7,265.2 62.7,262.9 73,262.9 73,282.3" fill="none" stroke="#333" stroke-width="1.2" stroke-linejoin="round"/>
<rect x="40.67" y="277.88" width="1.45" height="1.45" fill="#3a3a3a"/>
<rect x="67.18" y="259.47" width="1.45" height="1.45" fill="#3a3a3a"/>
<rect x="112.6" y="256.5" width="4.8" height="4.8" fill="none" stroke="#a6052f" stroke-width="1"/>
<circle cx="115" cy="269.2" r="2.5" fill="none" stroke="#6aace2" stroke-width="1"/>
<text x="121" y="261.09" font-size="6.4" text-anchor="start" fill="#1e1e1e" textLength="18.6" lengthAdjust="spacingAndGlyphs">empty</text>
<text x="121.3" y="271.49" font-size="6.4" text-anchor="start" fill="#1e1e1e" textLength="21.7" lengthAdjust="spacingAndGlyphs">14-3-3ε</text>
<text x="123.8" y="288.49" font-size="6.4" text-anchor="start" fill="#1e1e1e" textLength="20.2" lengthAdjust="spacingAndGlyphs">KMS11</text>
<text x="109.4" y="296.09" font-size="6.4" text-anchor="start" fill="#1e1e1e" textLength="48.9" lengthAdjust="spacingAndGlyphs">with YWHAE KO</text>
<text x="90.6" y="307.69" font-size="6.4" text-anchor="start" fill="#1e1e1e" textLength="21.1" lengthAdjust="spacingAndGlyphs">14-3-3ε</text>
<text x="88.7" y="325.29" font-size="6.4" text-anchor="start" fill="#1e1e1e" textLength="23" lengthAdjust="spacingAndGlyphs">GAPDH</text>
<defs><linearGradient id="bl1" x1="0" y1="0" x2="0" y2="1"><stop offset="0" stop-color="#e6e6e6"/><stop offset="1" stop-color="#f4f4f4"/></linearGradient></defs>
<rect x="115.2" y="301" width="37.4" height="10.4" fill="#f1f1f1" stroke="#2a2a2a" stroke-width="0.9"/>
<rect x="115.2" y="317.9" width="37.4" height="10.3" fill="#efefef" stroke="#2a2a2a" stroke-width="0.9"/>
<line x1="115.6" y1="311.6" x2="152.6" y2="311.6" stroke="#777" stroke-width="0.6" stroke-linecap="butt"/>
<line x1="115.6" y1="328.4" x2="152.6" y2="328.4" stroke="#777" stroke-width="0.6" stroke-linecap="butt"/>
<path d="M135.8,305.6 Q137,304.3 142,304.0 L150.8,303.5 L151,305.5 L142,305.7 Q138,305.9 135.8,305.6 Z" fill="#111"/>
<path d="M117.2,323.2 Q118,322.3 124,322.3 L131,322.4 Q131.4,323.1 131,323.9 L124,324.0 Q118,324.1 117.2,323.2 Z" fill="#141414"/>
<path d="M134.8,323.1 Q135.6,322.1 142,322.1 L150.8,322.0 Q151.2,322.9 150.8,323.9 L142,323.9 Q135.6,324.0 134.8,323.1 Z" fill="#141414"/>
<text x="129.2" y="333.9" font-size="6.7" text-anchor="end" fill="#1e1e1e" transform="rotate(-45 129.2 333.9)" stroke="#333" stroke-width="0.22">empty</text>
<text x="145.8" y="334.3" font-size="6.7" text-anchor="end" fill="#1e1e1e" transform="rotate(-45 145.8 334.3)" stroke="#333" stroke-width="0.22">14-3-3ε</text>
<text x="80.5" y="406.01" font-size="8.4" text-anchor="start" fill="#1e1e1e" textLength="27.5" lengthAdjust="spacingAndGlyphs">ANBL6</text>
<text x="14.6" y="473.8" font-size="8.7" text-anchor="start" fill="#1e1e1e" transform="rotate(-90 14.6 473.8)" textLength="30.1" lengthAdjust="spacingAndGlyphs">IC50 (nM)</text>
<rect x="38.25" y="491.15" width="8.1" height="9.65" fill="#a6052f" stroke="#8c0026" stroke-width="0.5"/>
<line x1="42.3" y1="490.9" x2="42.3" y2="488.2" stroke="#a6052f" stroke-width="0.9" stroke-linecap="butt"/>
<line x1="40.3" y1="488.2" x2="44.3" y2="488.2" stroke="#a6052f" stroke-width="0.9" stroke-linecap="butt"/>
<rect x="51.85" y="489.75" width="7.9" height="11.05" fill="#6aace2" stroke="#5d9fd8" stroke-width="0.5"/>
<line x1="55.8" y1="489.5" x2="55.8" y2="485.8" stroke="#6aace2" stroke-width="0.9" stroke-linecap="butt"/>
<line x1="53.8" y1="485.8" x2="57.8" y2="485.8" stroke="#6aace2" stroke-width="0.9" stroke-linecap="butt"/>
<path d="M64.95,500.8 L64.95,464.05 L73.55,464.05 L73.55,500.8" fill="none" stroke="#bf3258" stroke-width="1.3"/>
<line x1="69.25" y1="463.4" x2="69.25" y2="460.3" stroke="#bf3258" stroke-width="1.1" stroke-linecap="butt"/>
<line x1="67.25" y1="460.3" x2="71.25" y2="460.3" stroke="#bf3258" stroke-width="1.1" stroke-linecap="butt"/>
<path d="M78.65,500.8 L78.65,494.05 L87.25,494.05 L87.25,500.8" fill="none" stroke="#6aace2" stroke-width="1.3"/>
<line x1="82.95" y1="493.4" x2="82.95" y2="490" stroke="#6aace2" stroke-width="1.1" stroke-linecap="butt"/>
<line x1="80.95" y1="490" x2="84.95" y2="490" stroke="#6aace2" stroke-width="1.1" stroke-linecap="butt"/>
<rect x="101.45" y="496.95" width="8" height="3.85" fill="#a6052f" stroke="#8c0026" stroke-width="0.5"/>
<line x1="105.45" y1="496.7" x2="105.45" y2="496" stroke="#a6052f" stroke-width="0.9" stroke-linecap="butt"/>
<line x1="103.45" y1="496" x2="107.45" y2="496" stroke="#a6052f" stroke-width="0.9" stroke-linecap="butt"/>
<rect x="115.25" y="497.15" width="7.9" height="3.65" fill="#6aace2" stroke="#5d9fd8" stroke-width="0.5"/>
<line x1="119.2" y1="496.9" x2="119.2" y2="496.2" stroke="#6aace2" stroke-width="0.9" stroke-linecap="butt"/>
<line x1="117.2" y1="496.2" x2="121.2" y2="496.2" stroke="#6aace2" stroke-width="0.9" stroke-linecap="butt"/>
<path d="M128.45,500.8 L128.45,427.95 L137.15,427.95 L137.15,500.8" fill="none" stroke="#bf3258" stroke-width="1.3"/>
<line x1="132.8" y1="427.3" x2="132.8" y2="423.7" stroke="#bf3258" stroke-width="1.1" stroke-linecap="butt"/>
<line x1="130.8" y1="423.7" x2="134.8" y2="423.7" stroke="#bf3258" stroke-width="1.1" stroke-linecap="butt"/>
<path d="M141.95,500.8 L141.95,453.45 L150.65,453.45 L150.65,500.8" fill="none" stroke="#6aace2" stroke-width="1.3"/>
<line x1="146.3" y1="452.8" x2="146.3" y2="451.2" stroke="#6aace2" stroke-width="1.1" stroke-linecap="butt"/>
<line x1="144.3" y1="451.2" x2="148.3" y2="451.2" stroke="#6aace2" stroke-width="1.1" stroke-linecap="butt"/>
<rect x="79.7" y="484.7" width="1.6" height="1.6" fill="#3a3a3a"/>
<rect x="82.1" y="484.7" width="1.6" height="1.6" fill="#3a3a3a"/>
<rect x="84.5" y="484.7" width="1.6" height="1.6" fill="#3a3a3a"/>
<rect x="143.2" y="445.1" width="1.6" height="1.6" fill="#3a3a3a"/>
<rect x="145.6" y="445.1" width="1.6" height="1.6" fill="#3a3a3a"/>
<rect x="148" y="445.1" width="1.6" height="1.6" fill="#3a3a3a"/>
<line x1="33.1" y1="416.9" x2="33.1" y2="501.4" stroke="#1e1e1e" stroke-width="1.3" stroke-linecap="butt"/>
<line x1="32.5" y1="500.8" x2="155.6" y2="500.8" stroke="#1e1e1e" stroke-width="1.3" stroke-linecap="butt"/>
<line x1="30.8" y1="419.3" x2="33.1" y2="419.3" stroke="#1e1e1e" stroke-width="1" stroke-linecap="butt"/>
<text x="27.4" y="421.59" font-size="6.4" text-anchor="end" fill="#1e1e1e">20</text>
<line x1="30.8" y1="439.7" x2="33.1" y2="439.7" stroke="#1e1e1e" stroke-width="1" stroke-linecap="butt"/>
<text x="27.4" y="441.99" font-size="6.4" text-anchor="end" fill="#1e1e1e">15</text>
<line x1="30.8" y1="460.2" x2="33.1" y2="460.2" stroke="#1e1e1e" stroke-width="1" stroke-linecap="butt"/>
<text x="27.4" y="462.49" font-size="6.4" text-anchor="end" fill="#1e1e1e">10</text>
<line x1="30.8" y1="480.5" x2="33.1" y2="480.5" stroke="#1e1e1e" stroke-width="1" stroke-linecap="butt"/>
<text x="27.4" y="482.79" font-size="6.4" text-anchor="end" fill="#1e1e1e">5</text>
<line x1="30.8" y1="500.6" x2="33.1" y2="500.6" stroke="#1e1e1e" stroke-width="1" stroke-linecap="butt"/>
<text x="27.4" y="502.89" font-size="6.4" text-anchor="end" fill="#1e1e1e">0</text>
<line x1="42.3" y1="500.8" x2="42.3" y2="503" stroke="#1e1e1e" stroke-width="1" stroke-linecap="butt"/>
<text x="44.9" y="511.7" font-size="6.5" text-anchor="end" fill="#1e1e1e" transform="rotate(-45 44.9 511.7)" stroke="#333" stroke-width="0.22">WT-empty</text>
<line x1="55.8" y1="500.8" x2="55.8" y2="503" stroke="#1e1e1e" stroke-width="1" stroke-linecap="butt"/>
<text x="58.4" y="511.7" font-size="6.5" text-anchor="end" fill="#1e1e1e" transform="rotate(-45 58.4 511.7)" stroke="#333" stroke-width="0.22">WT-14-3-3ε</text>
<line x1="69.4" y1="500.8" x2="69.4" y2="503" stroke="#1e1e1e" stroke-width="1" stroke-linecap="butt"/>
<text x="72" y="511.7" font-size="6.5" text-anchor="end" fill="#1e1e1e" transform="rotate(-45 72 511.7)" stroke="#333" stroke-width="0.22">V10R-empty</text>
<line x1="83" y1="500.8" x2="83" y2="503" stroke="#1e1e1e" stroke-width="1" stroke-linecap="butt"/>
<text x="85.6" y="511.7" font-size="6.5" text-anchor="end" fill="#1e1e1e" transform="rotate(-45 85.6 511.7)" stroke="#333" stroke-width="0.22">V10R-14-3-3ε</text>
<line x1="105.45" y1="500.8" x2="105.45" y2="503" stroke="#1e1e1e" stroke-width="1" stroke-linecap="butt"/>
<text x="108.05" y="511.7" font-size="6.5" text-anchor="end" fill="#1e1e1e" transform="rotate(-45 108.05 511.7)" stroke="#333" stroke-width="0.22">WT-empty</text>
<line x1="119.2" y1="500.8" x2="119.2" y2="503" stroke="#1e1e1e" stroke-width="1" stroke-linecap="butt"/>
<text x="121.8" y="511.7" font-size="6.5" text-anchor="end" fill="#1e1e1e" transform="rotate(-45 121.8 511.7)" stroke="#333" stroke-width="0.22">WT-14-3-3ε</text>
<line x1="132.85" y1="500.8" x2="132.85" y2="503" stroke="#1e1e1e" stroke-width="1" stroke-linecap="butt"/>
<text x="135.45" y="511.7" font-size="6.5" text-anchor="end" fill="#1e1e1e" transform="rotate(-45 135.45 511.7)" stroke="#333" stroke-width="0.22">V10R-empty</text>
<line x1="146.4" y1="500.8" x2="146.4" y2="503" stroke="#1e1e1e" stroke-width="1" stroke-linecap="butt"/>
<text x="149" y="511.7" font-size="6.5" text-anchor="end" fill="#1e1e1e" transform="rotate(-45 149 511.7)" stroke="#333" stroke-width="0.22">V10R-14-3-3ε</text>
<line x1="38.4" y1="453.4" x2="85" y2="453.4" stroke="#1e1e1e" stroke-width="1.2" stroke-linecap="butt"/>
<line x1="102.7" y1="421.2" x2="149.2" y2="421.2" stroke="#1e1e1e" stroke-width="1.2" stroke-linecap="butt"/>
<text x="60.8" y="449.39" font-size="5" text-anchor="middle" fill="#1e1e1e">BTZ</text>
<text x="126" y="416.99" font-size="5" text-anchor="middle" fill="#1e1e1e">CFZ</text>
<line x1="210.1" y1="238.3" x2="212.7" y2="238.3" stroke="#1e1e1e" stroke-width="1" stroke-linecap="butt"/>
<text x="207.5" y="241.06" font-size="6.6" text-anchor="end" fill="#1e1e1e">2000</text>
<line x1="210.1" y1="264" x2="212.7" y2="264" stroke="#1e1e1e" stroke-width="1" stroke-linecap="butt"/>
<text x="207.5" y="266.76" font-size="6.6" text-anchor="end" fill="#1e1e1e">1500</text>
<line x1="210.1" y1="289.6" x2="212.7" y2="289.6" stroke="#1e1e1e" stroke-width="1" stroke-linecap="butt"/>
<text x="207.5" y="292.36" font-size="6.6" text-anchor="end" fill="#1e1e1e">1000</text>
<line x1="210.1" y1="315.1" x2="212.7" y2="315.1" stroke="#1e1e1e" stroke-width="1" stroke-linecap="butt"/>
<text x="207.5" y="317.86" font-size="6.6" text-anchor="end" fill="#1e1e1e">500</text>
<line x1="210.1" y1="340.7" x2="212.7" y2="340.7" stroke="#1e1e1e" stroke-width="1" stroke-linecap="butt"/>
<text x="207.5" y="343.46" font-size="6.6" text-anchor="end" fill="#1e1e1e">0</text>
<line x1="225.1" y1="340.7" x2="225.1" y2="343.1" stroke="#1e1e1e" stroke-width="1" stroke-linecap="butt"/>
<text x="225.1" y="353.16" font-size="6.6" text-anchor="middle" fill="#1e1e1e">0</text>
<line x1="243.57" y1="340.7" x2="243.57" y2="343.1" stroke="#1e1e1e" stroke-width="1" stroke-linecap="butt"/>
<text x="243.57" y="353.16" font-size="6.6" text-anchor="middle" fill="#1e1e1e">7</text>
<line x1="262.05" y1="340.7" x2="262.05" y2="343.1" stroke="#1e1e1e" stroke-width="1" stroke-linecap="butt"/>
<text x="262.05" y="353.16" font-size="6.6" text-anchor="middle" fill="#1e1e1e">14</text>
<line x1="280.52" y1="340.7" x2="280.52" y2="343.1" stroke="#1e1e1e" stroke-width="1" stroke-linecap="butt"/>
<text x="280.52" y="353.16" font-size="6.6" text-anchor="middle" fill="#1e1e1e">21</text>
<line x1="298.99" y1="340.7" x2="298.99" y2="343.1" stroke="#1e1e1e" stroke-width="1" stroke-linecap="butt"/>
<text x="298.99" y="353.16" font-size="6.6" text-anchor="middle" fill="#1e1e1e">28</text>
<line x1="317.46" y1="340.7" x2="317.46" y2="343.1" stroke="#1e1e1e" stroke-width="1" stroke-linecap="butt"/>
<text x="317.46" y="353.16" font-size="6.6" text-anchor="middle" fill="#1e1e1e">35</text>
<line x1="335.94" y1="340.7" x2="335.94" y2="343.1" stroke="#1e1e1e" stroke-width="1" stroke-linecap="butt"/>
<text x="335.94" y="353.16" font-size="6.6" text-anchor="middle" fill="#1e1e1e">42</text>
<line x1="354.41" y1="340.7" x2="354.41" y2="343.1" stroke="#1e1e1e" stroke-width="1" stroke-linecap="butt"/>
<text x="354.41" y="353.16" font-size="6.6" text-anchor="middle" fill="#1e1e1e">49</text>
<text x="223.2" y="364.98" font-size="8.6" text-anchor="start" fill="#1e1e1e" textLength="133.8" lengthAdjust="spacingAndGlyphs" stroke="#222" stroke-width="0.2">Days from tumor  appearence and treatment</text>
<text transform="translate(186.9,320.2) rotate(-90)" font-size="9.3" fill="#1e1e1e" textLength="64.8" lengthAdjust="spacingAndGlyphs">Tumor volume (mm<tspan font-size="5.8" dy="-3.6">3</tspan><tspan dy="3.6">)</tspan></text>
<line x1="225.1" y1="333.5" x2="225.1" y2="336.5" stroke="#78b4e6" stroke-width="0.9" stroke-linecap="butt"/>
<line x1="223.6" y1="333.5" x2="226.6" y2="333.5" stroke="#78b4e6" stroke-width="0.9" stroke-linecap="butt"/>
<line x1="223.6" y1="336.5" x2="226.6" y2="336.5" stroke="#78b4e6" stroke-width="0.9" stroke-linecap="butt"/>
<line x1="225.1" y1="333" x2="225.1" y2="336.5" stroke="#78b4e6" stroke-width="0.9" stroke-linecap="butt"/>
<line x1="223.6" y1="333" x2="226.6" y2="333" stroke="#78b4e6" stroke-width="0.9" stroke-linecap="butt"/>
<line x1="223.6" y1="336.5" x2="226.6" y2="336.5" stroke="#78b4e6" stroke-width="0.9" stroke-linecap="butt"/>
<line x1="243.57" y1="333.5" x2="243.57" y2="337.5" stroke="#78b4e6" stroke-width="0.9" stroke-linecap="butt"/>
<line x1="242.07" y1="333.5" x2="245.07" y2="333.5" stroke="#78b4e6" stroke-width="0.9" stroke-linecap="butt"/>
<line x1="242.07" y1="337.5" x2="245.07" y2="337.5" stroke="#78b4e6" stroke-width="0.9" stroke-linecap="butt"/>
<line x1="243.57" y1="329.5" x2="243.57" y2="334" stroke="#78b4e6" stroke-width="0.9" stroke-linecap="butt"/>
<line x1="242.07" y1="329.5" x2="245.07" y2="329.5" stroke="#78b4e6" stroke-width="0.9" stroke-linecap="butt"/>
<line x1="242.07" y1="334" x2="245.07" y2="334" stroke="#78b4e6" stroke-width="0.9" stroke-linecap="butt"/>
<line x1="262.05" y1="334" x2="262.05" y2="338" stroke="#78b4e6" stroke-width="0.9" stroke-linecap="butt"/>
<line x1="260.55" y1="334" x2="263.55" y2="334" stroke="#78b4e6" stroke-width="0.9" stroke-linecap="butt"/>
<line x1="260.55" y1="338" x2="263.55" y2="338" stroke="#78b4e6" stroke-width="0.9" stroke-linecap="butt"/>
<line x1="262.05" y1="322" x2="262.05" y2="328" stroke="#78b4e6" stroke-width="0.9" stroke-linecap="butt"/>
<line x1="260.55" y1="322" x2="263.55" y2="322" stroke="#78b4e6" stroke-width="0.9" stroke-linecap="butt"/>
<line x1="260.55" y1="328" x2="263.55" y2="328" stroke="#78b4e6" stroke-width="0.9" stroke-linecap="butt"/>
<line x1="280.52" y1="335" x2="280.52" y2="339" stroke="#78b4e6" stroke-width="0.9" stroke-linecap="butt"/>
<line x1="279.02" y1="335" x2="282.02" y2="335" stroke="#78b4e6" stroke-width="0.9" stroke-linecap="butt"/>
<line x1="279.02" y1="339" x2="282.02" y2="339" stroke="#78b4e6" stroke-width="0.9" stroke-linecap="butt"/>
<line x1="280.52" y1="312.2" x2="280.52" y2="328.5" stroke="#78b4e6" stroke-width="0.9" stroke-linecap="butt"/>
<line x1="279.02" y1="312.2" x2="282.02" y2="312.2" stroke="#78b4e6" stroke-width="0.9" stroke-linecap="butt"/>
<line x1="279.02" y1="328.5" x2="282.02" y2="328.5" stroke="#78b4e6" stroke-width="0.9" stroke-linecap="butt"/>
<line x1="298.99" y1="334.5" x2="298.99" y2="338.5" stroke="#78b4e6" stroke-width="0.9" stroke-linecap="butt"/>
<line x1="297.49" y1="334.5" x2="300.49" y2="334.5" stroke="#78b4e6" stroke-width="0.9" stroke-linecap="butt"/>
<line x1="297.49" y1="338.5" x2="300.49" y2="338.5" stroke="#78b4e6" stroke-width="0.9" stroke-linecap="butt"/>
<line x1="298.99" y1="292.5" x2="298.99" y2="326" stroke="#78b4e6" stroke-width="0.9" stroke-linecap="butt"/>
<line x1="297.49" y1="292.5" x2="300.49" y2="292.5" stroke="#78b4e6" stroke-width="0.9" stroke-linecap="butt"/>
<line x1="297.49" y1="326" x2="300.49" y2="326" stroke="#78b4e6" stroke-width="0.9" stroke-linecap="butt"/>
<line x1="317.46" y1="332" x2="317.46" y2="337" stroke="#78b4e6" stroke-width="0.9" stroke-linecap="butt"/>
<line x1="315.96" y1="332" x2="318.96" y2="332" stroke="#78b4e6" stroke-width="0.9" stroke-linecap="butt"/>
<line x1="315.96" y1="337" x2="318.96" y2="337" stroke="#78b4e6" stroke-width="0.9" stroke-linecap="butt"/>
<line x1="317.46" y1="266.5" x2="317.46" y2="322" stroke="#78b4e6" stroke-width="0.9" stroke-linecap="butt"/>
<line x1="315.96" y1="266.5" x2="318.96" y2="266.5" stroke="#78b4e6" stroke-width="0.9" stroke-linecap="butt"/>
<line x1="315.96" y1="322" x2="318.96" y2="322" stroke="#78b4e6" stroke-width="0.9" stroke-linecap="butt"/>
<line x1="335.94" y1="332" x2="335.94" y2="337" stroke="#78b4e6" stroke-width="0.9" stroke-linecap="butt"/>
<line x1="334.44" y1="332" x2="337.44" y2="332" stroke="#78b4e6" stroke-width="0.9" stroke-linecap="butt"/>
<line x1="334.44" y1="337" x2="337.44" y2="337" stroke="#78b4e6" stroke-width="0.9" stroke-linecap="butt"/>
<line x1="335.94" y1="258.8" x2="335.94" y2="320" stroke="#78b4e6" stroke-width="0.9" stroke-linecap="butt"/>
<line x1="334.44" y1="258.8" x2="337.44" y2="258.8" stroke="#78b4e6" stroke-width="0.9" stroke-linecap="butt"/>
<line x1="334.44" y1="320" x2="337.44" y2="320" stroke="#78b4e6" stroke-width="0.9" stroke-linecap="butt"/>
<line x1="354.41" y1="331.5" x2="354.41" y2="338.1" stroke="#78b4e6" stroke-width="0.9" stroke-linecap="butt"/>
<line x1="352.91" y1="331.5" x2="355.91" y2="331.5" stroke="#78b4e6" stroke-width="0.9" stroke-linecap="butt"/>
<line x1="352.91" y1="338.1" x2="355.91" y2="338.1" stroke="#78b4e6" stroke-width="0.9" stroke-linecap="butt"/>
<line x1="354.41" y1="250" x2="354.41" y2="313" stroke="#78b4e6" stroke-width="0.9" stroke-linecap="butt"/>
<line x1="352.91" y1="250" x2="355.91" y2="250" stroke="#78b4e6" stroke-width="0.9" stroke-linecap="butt"/>
<line x1="352.91" y1="313" x2="355.91" y2="313" stroke="#78b4e6" stroke-width="0.9" stroke-linecap="butt"/>
<line x1="225.1" y1="335" x2="225.1" y2="338" stroke="#b3324f" stroke-width="1" stroke-linecap="butt"/>
<line x1="223.3" y1="335" x2="226.9" y2="335" stroke="#b3324f" stroke-width="1" stroke-linecap="butt"/>
<line x1="223.3" y1="338" x2="226.9" y2="338" stroke="#b3324f" stroke-width="1" stroke-linecap="butt"/>
<line x1="225.1" y1="335" x2="225.1" y2="338" stroke="#b3324f" stroke-width="1" stroke-linecap="butt"/>
<line x1="223.3" y1="335" x2="226.9" y2="335" stroke="#b3324f" stroke-width="1" stroke-linecap="butt"/>
<line x1="223.3" y1="338" x2="226.9" y2="338" stroke="#b3324f" stroke-width="1" stroke-linecap="butt"/>
<line x1="243.57" y1="330" x2="243.57" y2="335" stroke="#b3324f" stroke-width="1" stroke-linecap="butt"/>
<line x1="241.77" y1="330" x2="245.37" y2="330" stroke="#b3324f" stroke-width="1" stroke-linecap="butt"/>
<line x1="241.77" y1="335" x2="245.37" y2="335" stroke="#b3324f" stroke-width="1" stroke-linecap="butt"/>
<line x1="243.57" y1="328" x2="243.57" y2="333.3" stroke="#b3324f" stroke-width="1" stroke-linecap="butt"/>
<line x1="241.77" y1="328" x2="245.37" y2="328" stroke="#b3324f" stroke-width="1" stroke-linecap="butt"/>
<line x1="241.77" y1="333.3" x2="245.37" y2="333.3" stroke="#b3324f" stroke-width="1" stroke-linecap="butt"/>
<line x1="262.05" y1="329" x2="262.05" y2="335.5" stroke="#b3324f" stroke-width="1" stroke-linecap="butt"/>
<line x1="260.25" y1="329" x2="263.85" y2="329" stroke="#b3324f" stroke-width="1" stroke-linecap="butt"/>
<line x1="260.25" y1="335.5" x2="263.85" y2="335.5" stroke="#b3324f" stroke-width="1" stroke-linecap="butt"/>
<line x1="262.05" y1="321.3" x2="262.05" y2="330.5" stroke="#b3324f" stroke-width="1" stroke-linecap="butt"/>
<line x1="260.25" y1="321.3" x2="263.85" y2="321.3" stroke="#b3324f" stroke-width="1" stroke-linecap="butt"/>
<line x1="260.25" y1="330.5" x2="263.85" y2="330.5" stroke="#b3324f" stroke-width="1" stroke-linecap="butt"/>
<line x1="280.52" y1="322" x2="280.52" y2="332.5" stroke="#b3324f" stroke-width="1" stroke-linecap="butt"/>
<line x1="278.72" y1="322" x2="282.32" y2="322" stroke="#b3324f" stroke-width="1" stroke-linecap="butt"/>
<line x1="278.72" y1="332.5" x2="282.32" y2="332.5" stroke="#b3324f" stroke-width="1" stroke-linecap="butt"/>
<line x1="280.52" y1="314.5" x2="280.52" y2="331" stroke="#b3324f" stroke-width="1" stroke-linecap="butt"/>
<line x1="278.72" y1="314.5" x2="282.32" y2="314.5" stroke="#b3324f" stroke-width="1" stroke-linecap="butt"/>
<line x1="278.72" y1="331" x2="282.32" y2="331" stroke="#b3324f" stroke-width="1" stroke-linecap="butt"/>
<line x1="298.99" y1="319.1" x2="298.99" y2="332" stroke="#b3324f" stroke-width="1" stroke-linecap="butt"/>
<line x1="297.19" y1="319.1" x2="300.79" y2="319.1" stroke="#b3324f" stroke-width="1" stroke-linecap="butt"/>
<line x1="297.19" y1="332" x2="300.79" y2="332" stroke="#b3324f" stroke-width="1" stroke-linecap="butt"/>
<line x1="298.99" y1="291.2" x2="298.99" y2="331.5" stroke="#b3324f" stroke-width="1" stroke-linecap="butt"/>
<line x1="297.19" y1="291.2" x2="300.79" y2="291.2" stroke="#b3324f" stroke-width="1" stroke-linecap="butt"/>
<line x1="297.19" y1="331.5" x2="300.79" y2="331.5" stroke="#b3324f" stroke-width="1" stroke-linecap="butt"/>
<line x1="317.46" y1="317.5" x2="317.46" y2="325.4" stroke="#b3324f" stroke-width="1" stroke-linecap="butt"/>
<line x1="315.66" y1="317.5" x2="319.26" y2="317.5" stroke="#b3324f" stroke-width="1" stroke-linecap="butt"/>
<line x1="315.66" y1="325.4" x2="319.26" y2="325.4" stroke="#b3324f" stroke-width="1" stroke-linecap="butt"/>
<line x1="317.46" y1="274.4" x2="317.46" y2="316.7" stroke="#b3324f" stroke-width="1" stroke-linecap="butt"/>
<line x1="315.66" y1="274.4" x2="319.26" y2="274.4" stroke="#b3324f" stroke-width="1" stroke-linecap="butt"/>
<line x1="315.66" y1="316.7" x2="319.26" y2="316.7" stroke="#b3324f" stroke-width="1" stroke-linecap="butt"/>
<line x1="335.94" y1="306.1" x2="335.94" y2="323.5" stroke="#b3324f" stroke-width="1" stroke-linecap="butt"/>
<line x1="334.14" y1="306.1" x2="337.74" y2="306.1" stroke="#b3324f" stroke-width="1" stroke-linecap="butt"/>
<line x1="334.14" y1="323.5" x2="337.74" y2="323.5" stroke="#b3324f" stroke-width="1" stroke-linecap="butt"/>
<line x1="335.94" y1="266.8" x2="335.94" y2="306.1" stroke="#b3324f" stroke-width="1" stroke-linecap="butt"/>
<line x1="334.14" y1="266.8" x2="337.74" y2="266.8" stroke="#b3324f" stroke-width="1" stroke-linecap="butt"/>
<line x1="334.14" y1="306.1" x2="337.74" y2="306.1" stroke="#b3324f" stroke-width="1" stroke-linecap="butt"/>
<line x1="354.41" y1="291.4" x2="354.41" y2="320.8" stroke="#b3324f" stroke-width="1" stroke-linecap="butt"/>
<line x1="352.61" y1="291.4" x2="356.21" y2="291.4" stroke="#b3324f" stroke-width="1" stroke-linecap="butt"/>
<line x1="352.61" y1="320.8" x2="356.21" y2="320.8" stroke="#b3324f" stroke-width="1" stroke-linecap="butt"/>
<line x1="354.41" y1="245.8" x2="354.41" y2="291.4" stroke="#b3324f" stroke-width="1" stroke-linecap="butt"/>
<line x1="352.61" y1="245.8" x2="356.21" y2="245.8" stroke="#b3324f" stroke-width="1" stroke-linecap="butt"/>
<line x1="352.61" y1="291.4" x2="356.21" y2="291.4" stroke="#b3324f" stroke-width="1" stroke-linecap="butt"/>
<polyline points="225.1,335 243.57,335.7 262.05,336.1 280.52,336.9 298.99,336.4 317.46,334.6 335.94,334.6 354.41,334.8" fill="none" stroke="#6aace2" stroke-width="1.3" stroke-linejoin="round" stroke-dasharray="3.8,2.6"/>
<polyline points="225.1,336.5 243.57,332.3 262.05,332.3 280.52,327.4 298.99,324.1 317.46,320.8 335.94,313.9 354.41,305.3" fill="none" stroke="#a6052f" stroke-width="1.5" stroke-linejoin="round" stroke-dasharray="3.6,2.6"/>
<polyline points="225.1,334.7 243.57,331.9 262.05,325 280.52,320.5 298.99,309 317.46,294.5 335.94,289.5 354.41,281.5" fill="none" stroke="#6aace2" stroke-width="1.3" stroke-linejoin="round"/>
<polyline points="225.1,336.3 243.57,330.7 262.05,326 280.52,322.9 298.99,311.7 317.46,297.4 335.94,289.5 354.41,276.7" fill="none" stroke="#a6052f" stroke-width="1.6" stroke-linejoin="round"/>
<path d="M223.2,333.19 L227,333.19 L225.1,336.81 Z" fill="#6aace2"/>
<path d="M241.67,333.89 L245.47,333.89 L243.57,337.5 Z" fill="#6aace2"/>
<path d="M260.15,334.3 L263.95,334.3 L262.05,337.91 Z" fill="#6aace2"/>
<path d="M278.62,335.09 L282.42,335.09 L280.52,338.7 Z" fill="#6aace2"/>
<path d="M297.09,334.59 L300.89,334.59 L298.99,338.2 Z" fill="#6aace2"/>
<path d="M315.56,332.8 L319.36,332.8 L317.46,336.41 Z" fill="#6aace2"/>
<path d="M334.04,332.8 L337.84,332.8 L335.94,336.41 Z" fill="#6aace2"/>
<path d="M352.51,333 L356.31,333 L354.41,336.61 Z" fill="#6aace2"/>
<path d="M223.2,336.5 L227,336.5 L225.1,332.89 Z" fill="#6aace2"/>
<path d="M241.67,333.7 L245.47,333.7 L243.57,330.09 Z" fill="#6aace2"/>
<path d="M260.15,326.81 L263.95,326.81 L262.05,323.19 Z" fill="#6aace2"/>
<path d="M278.62,322.31 L282.42,322.31 L280.52,318.69 Z" fill="#6aace2"/>
<path d="M297.09,310.81 L300.89,310.81 L298.99,307.19 Z" fill="#6aace2"/>
<path d="M315.56,296.31 L319.36,296.31 L317.46,292.69 Z" fill="#6aace2"/>
<path d="M334.04,291.31 L337.84,291.31 L335.94,287.69 Z" fill="#6aace2"/>
<path d="M352.51,283.31 L356.31,283.31 L354.41,279.69 Z" fill="#6aace2"/>
<rect x="223.3" y="334.7" width="3.6" height="3.6" fill="none" stroke="#a6052f" stroke-width="0.9"/>
<rect x="241.77" y="330.5" width="3.6" height="3.6" fill="none" stroke="#a6052f" stroke-width="0.9"/>
<rect x="260.25" y="330.5" width="3.6" height="3.6" fill="none" stroke="#a6052f" stroke-width="0.9"/>
<rect x="278.72" y="325.6" width="3.6" height="3.6" fill="none" stroke="#a6052f" stroke-width="0.9"/>
<rect x="297.19" y="322.3" width="3.6" height="3.6" fill="none" stroke="#a6052f" stroke-width="0.9"/>
<rect x="315.66" y="319" width="3.6" height="3.6" fill="none" stroke="#a6052f" stroke-width="0.9"/>
<rect x="334.14" y="312.1" width="3.6" height="3.6" fill="none" stroke="#a6052f" stroke-width="0.9"/>
<rect x="352.61" y="303.5" width="3.6" height="3.6" fill="none" stroke="#a6052f" stroke-width="0.9"/>
<circle cx="225.1" cy="336.3" r="2.3" fill="#a6052f"/>
<circle cx="243.57" cy="330.7" r="2.3" fill="#a6052f"/>
<circle cx="262.05" cy="326" r="2.3" fill="#a6052f"/>
<circle cx="280.52" cy="322.9" r="2.3" fill="#a6052f"/>
<circle cx="298.99" cy="311.7" r="2.3" fill="#a6052f"/>
<circle cx="317.46" cy="297.4" r="2.3" fill="#a6052f"/>
<circle cx="335.94" cy="289.5" r="2.3" fill="#a6052f"/>
<circle cx="354.41" cy="276.7" r="2.3" fill="#a6052f"/>
<rect x="222.9" y="334.2" width="4.4" height="4.3" fill="#a6052f"/>
<line x1="212.7" y1="235.5" x2="212.7" y2="341.3" stroke="#1e1e1e" stroke-width="1.3" stroke-linecap="butt"/>
<line x1="212.1" y1="340.7" x2="367" y2="340.7" stroke="#1e1e1e" stroke-width="1.4" stroke-linecap="butt"/>
<line x1="228.2" y1="318" x2="228.2" y2="324.2" stroke="#111" stroke-width="1" stroke-linecap="butt"/>
<path d="M226.4,323 L228.2,324 L230,323 L228.2,327.2 Z" fill="#111"/>
<line x1="236" y1="318" x2="236" y2="324.2" stroke="#111" stroke-width="1" stroke-linecap="butt"/>
<path d="M234.2,323 L236,324 L237.8,323 L236,327.2 Z" fill="#111"/>
<line x1="247.2" y1="314.2" x2="247.2" y2="320.4" stroke="#111" stroke-width="1" stroke-linecap="butt"/>
<path d="M245.4,319.2 L247.2,320.2 L249,319.2 L247.2,323.4 Z" fill="#111"/>
<line x1="255.1" y1="314.2" x2="255.1" y2="320.4" stroke="#111" stroke-width="1" stroke-linecap="butt"/>
<path d="M253.3,319.2 L255.1,320.2 L256.9,319.2 L255.1,323.4 Z" fill="#111"/>
<line x1="302.6" y1="279.9" x2="302.6" y2="286.5" stroke="#111" stroke-width="1" stroke-linecap="butt"/>
<path d="M300.8,285.3 L302.6,286.3 L304.4,285.3 L302.6,289.5 Z" fill="#111"/>
<line x1="310.3" y1="279.9" x2="310.3" y2="286.5" stroke="#111" stroke-width="1" stroke-linecap="butt"/>
<path d="M308.5,285.3 L310.3,286.3 L312.1,285.3 L310.3,289.5 Z" fill="#111"/>
<line x1="321.6" y1="276.2" x2="321.6" y2="282.8" stroke="#111" stroke-width="1" stroke-linecap="butt"/>
<path d="M319.8,281.6 L321.6,282.6 L323.4,281.6 L321.6,285.8 Z" fill="#111"/>
<line x1="329.6" y1="276.2" x2="329.6" y2="282.8" stroke="#111" stroke-width="1" stroke-linecap="butt"/>
<path d="M327.8,281.6 L329.6,282.6 L331.4,281.6 L329.6,285.8 Z" fill="#111"/>
<text x="225.9" y="313.73" font-size="5.4" text-anchor="start" fill="#1e1e1e" textLength="7.4" lengthAdjust="spacingAndGlyphs">Btz</text>
<text x="300.1" y="276.63" font-size="5.4" text-anchor="start" fill="#1e1e1e" textLength="7.7" lengthAdjust="spacingAndGlyphs">Btz</text>
<line x1="218" y1="244.6" x2="232" y2="244.6" stroke="#a6052f" stroke-width="1.3" stroke-linecap="butt"/>
<circle cx="224.9" cy="244.6" r="2.1" fill="#a6052f"/>
<line x1="218" y1="258.5" x2="220.7" y2="258.5" stroke="#a6052f" stroke-width="1.3" stroke-linecap="butt"/>
<line x1="229.1" y1="258.5" x2="232" y2="258.5" stroke="#a6052f" stroke-width="1.3" stroke-linecap="butt"/>
<rect x="223.1" y="256.5" width="4.3" height="4.1" fill="#fff" stroke="#a6052f" stroke-width="0.9"/>
<line x1="223.1" y1="258.5" x2="227.4" y2="258.5" stroke="#a6052f" stroke-width="0.9" stroke-linecap="butt"/>
<line x1="218" y1="272.6" x2="232" y2="272.6" stroke="#6aace2" stroke-width="1.2" stroke-linecap="butt"/>
<path d="M222.95,274.64 L227.25,274.64 L225.1,270.56 Z" fill="#6aace2"/>
<line x1="218" y1="286.1" x2="220.6" y2="286.1" stroke="#6aace2" stroke-width="1.3" stroke-linecap="butt"/>
<line x1="229.1" y1="286.1" x2="232" y2="286.1" stroke="#6aace2" stroke-width="1.3" stroke-linecap="butt"/>
<path d="M222.95,283.86 L227.25,283.86 L225.1,287.94 Z" fill="#6aace2"/>
<text x="235.3" y="246.2" font-size="5.6" text-anchor="start" fill="#1e1e1e" textLength="36.5" lengthAdjust="spacingAndGlyphs">empty Placebo</text>
<text x="235.3" y="260.1" font-size="5.6" text-anchor="start" fill="#1e1e1e" textLength="40.5" lengthAdjust="spacingAndGlyphs">empty 0.5mg/kg</text>
<text x="235.3" y="274.3" font-size="5.6" text-anchor="start" fill="#1e1e1e" textLength="39.3" lengthAdjust="spacingAndGlyphs">14-3-3ε Placebo</text>
<text x="235.3" y="288.2" font-size="5.6" text-anchor="start" fill="#1e1e1e" textLength="43.5" lengthAdjust="spacingAndGlyphs">14-3-3ε 0.5mg/kg</text>
<polyline points="368.3,273.1 370.5,273.1 370.5,333.4 368.3,333.4" fill="none" stroke="#222" stroke-width="1.25" stroke-linejoin="round"/>
<polyline points="359.3,306.7 361.5,306.7 361.5,333.4 359.3,333.4" fill="none" stroke="#222" stroke-width="1.25" stroke-linejoin="round"/>
<rect x="372.85" y="298.65" width="1.5" height="1.5" fill="#3a3a3a"/>
<rect x="363.15" y="319.65" width="1.5" height="1.5" fill="#3a3a3a"/>
<path d="M220.53,500.8 L220.53,460.32 L232.78,460.32 L232.78,500.8" fill="none" stroke="#bf3258" stroke-width="1.25"/>
<path d="M241.82,500.8 L241.82,468.93 L254.07,468.93 L254.07,500.8" fill="none" stroke="#bf3258" stroke-width="1.25"/>
<path d="M262.52,500.8 L262.52,451.32 L274.77,451.32 L274.77,500.8" fill="none" stroke="#6aace2" stroke-width="1.25"/>
<path d="M283.62,500.8 L283.62,494.02 L295.88,494.02 L295.88,500.8" fill="none" stroke="#6aace2" stroke-width="1.25"/>
<line x1="226.8" y1="436" x2="226.8" y2="481" stroke="#bf3258" stroke-width="1.15" stroke-linecap="butt"/>
<line x1="223.5" y1="436" x2="230.1" y2="436" stroke="#bf3258" stroke-width="1.15" stroke-linecap="butt"/>
<line x1="223.5" y1="481" x2="230.1" y2="481" stroke="#bf3258" stroke-width="1.15" stroke-linecap="butt"/>
<line x1="248" y1="459" x2="248" y2="475.8" stroke="#bf3258" stroke-width="1.15" stroke-linecap="butt"/>
<line x1="244.7" y1="459" x2="251.3" y2="459" stroke="#bf3258" stroke-width="1.15" stroke-linecap="butt"/>
<line x1="244.7" y1="475.8" x2="251.3" y2="475.8" stroke="#bf3258" stroke-width="1.15" stroke-linecap="butt"/>
<line x1="268.6" y1="431.1" x2="268.6" y2="468.5" stroke="#6aace2" stroke-width="1.15" stroke-linecap="butt"/>
<line x1="265.3" y1="431.1" x2="271.9" y2="431.1" stroke="#6aace2" stroke-width="1.15" stroke-linecap="butt"/>
<line x1="265.3" y1="468.5" x2="271.9" y2="468.5" stroke="#6aace2" stroke-width="1.15" stroke-linecap="butt"/>
<line x1="289.8" y1="489.6" x2="289.8" y2="495.2" stroke="#6aace2" stroke-width="1.15" stroke-linecap="butt"/>
<line x1="286.5" y1="489.6" x2="293.1" y2="489.6" stroke="#6aace2" stroke-width="1.15" stroke-linecap="butt"/>
<line x1="286.5" y1="495.2" x2="293.1" y2="495.2" stroke="#6aace2" stroke-width="1.15" stroke-linecap="butt"/>
<polyline points="226.4,432.2 226.4,430.4 247.7,430.4" fill="none" stroke="#333" stroke-width="1.1" stroke-linejoin="round"/>
<polyline points="247.7,454.1 247.7,418.1 290.1,418.1 290.1,420.5" fill="none" stroke="#333" stroke-width="1.1" stroke-linejoin="round"/>
<polyline points="268.3,427.9 268.3,425.6 290.1,425.6 290.1,483.6" fill="none" stroke="#333" stroke-width="1.1" stroke-linejoin="round"/>
<text x="237.2" y="427.79" font-size="5" text-anchor="middle" fill="#1e1e1e">NS</text>
<rect x="267" y="414.9" width="1.4" height="1.4" fill="#3a3a3a"/>
<rect x="269.2" y="414.9" width="1.4" height="1.4" fill="#3a3a3a"/>
<rect x="278.5" y="422.3" width="1.4" height="1.4" fill="#3a3a3a"/>
<line x1="213" y1="423.2" x2="213" y2="501.4" stroke="#1e1e1e" stroke-width="1.3" stroke-linecap="butt"/>
<line x1="212.4" y1="500.8" x2="304.5" y2="500.8" stroke="#1e1e1e" stroke-width="1.3" stroke-linecap="butt"/>
<line x1="210.3" y1="426.3" x2="213" y2="426.3" stroke="#1e1e1e" stroke-width="1" stroke-linecap="butt"/>
<text x="207.5" y="428.66" font-size="6.6" text-anchor="end" fill="#1e1e1e">600</text>
<line x1="210.3" y1="451" x2="213" y2="451" stroke="#1e1e1e" stroke-width="1" stroke-linecap="butt"/>
<text x="207.5" y="453.36" font-size="6.6" text-anchor="end" fill="#1e1e1e">400</text>
<line x1="210.3" y1="475.9" x2="213" y2="475.9" stroke="#1e1e1e" stroke-width="1" stroke-linecap="butt"/>
<text x="207.5" y="478.26" font-size="6.6" text-anchor="end" fill="#1e1e1e">200</text>
<line x1="210.3" y1="500.6" x2="213" y2="500.6" stroke="#1e1e1e" stroke-width="1" stroke-linecap="butt"/>
<text x="207.5" y="502.96" font-size="6.6" text-anchor="end" fill="#1e1e1e">0</text>
<line x1="227" y1="500.8" x2="227" y2="503.1" stroke="#1e1e1e" stroke-width="1" stroke-linecap="butt"/>
<text x="227" y="512.75" font-size="6" text-anchor="middle" fill="#1e1e1e">-</text>
<line x1="247.5" y1="500.8" x2="247.5" y2="503.1" stroke="#1e1e1e" stroke-width="1" stroke-linecap="butt"/>
<text x="247.5" y="512.75" font-size="6" text-anchor="middle" fill="#1e1e1e">+</text>
<line x1="268.75" y1="500.8" x2="268.75" y2="503.1" stroke="#1e1e1e" stroke-width="1" stroke-linecap="butt"/>
<text x="268.75" y="512.75" font-size="6" text-anchor="middle" fill="#1e1e1e">-</text>
<line x1="289.5" y1="500.8" x2="289.5" y2="503.1" stroke="#1e1e1e" stroke-width="1" stroke-linecap="butt"/>
<text x="289.5" y="512.75" font-size="6" text-anchor="middle" fill="#1e1e1e">+</text>
<text x="230.75" y="409.12" font-size="9" text-anchor="start" fill="#1e1e1e" textLength="55.5" lengthAdjust="spacingAndGlyphs">After 1st cycle</text>
<text x="217.5" y="523.36" font-size="6.6" text-anchor="start" fill="#1e1e1e" textLength="39.25" lengthAdjust="spacingAndGlyphs">Empty Vector</text>
<text x="269.25" y="523.36" font-size="6.6" text-anchor="start" fill="#1e1e1e" textLength="21.5" lengthAdjust="spacingAndGlyphs">14-3-3ε</text>
<text x="171" y="512.76" font-size="6.6" text-anchor="start" fill="#1e1e1e" textLength="41.6" lengthAdjust="spacingAndGlyphs">BTZ 0.5mg/kg</text>
<text transform="translate(190.3,494.9) rotate(-90)" font-size="8.5" fill="#1e1e1e" textLength="65" lengthAdjust="spacingAndGlyphs">Tumor volume (mm<tspan font-size="5.36" dy="-3.31">3</tspan><tspan dy="3.31">)</tspan></text>
<path d="M363.12,500.9 L363.12,455.12 L375.12,455.12 L375.12,500.9" fill="none" stroke="#bf3258" stroke-width="1.25"/>
<path d="M384.38,500.9 L384.38,476.88 L396.38,476.88 L396.38,500.9" fill="none" stroke="#bf3258" stroke-width="1.25"/>
<path d="M405.12,500.9 L405.12,458.62 L417.38,458.62 L417.38,500.9" fill="none" stroke="#6aace2" stroke-width="1.25"/>
<path d="M426.38,500.9 L426.38,498.12 L438.62,498.12 L438.62,500.9" fill="none" stroke="#6aace2" stroke-width="1.25"/>
<line x1="369.1" y1="432" x2="369.1" y2="476.25" stroke="#bf3258" stroke-width="1.15" stroke-linecap="butt"/>
<line x1="365.8" y1="432" x2="372.4" y2="432" stroke="#bf3258" stroke-width="1.15" stroke-linecap="butt"/>
<line x1="365.8" y1="476.25" x2="372.4" y2="476.25" stroke="#bf3258" stroke-width="1.15" stroke-linecap="butt"/>
<line x1="390.4" y1="465" x2="390.4" y2="486.25" stroke="#bf3258" stroke-width="1.15" stroke-linecap="butt"/>
<line x1="387.1" y1="465" x2="393.7" y2="465" stroke="#bf3258" stroke-width="1.15" stroke-linecap="butt"/>
<line x1="387.1" y1="486.25" x2="393.7" y2="486.25" stroke="#bf3258" stroke-width="1.15" stroke-linecap="butt"/>
<line x1="411.2" y1="435" x2="411.2" y2="480.5" stroke="#6aace2" stroke-width="1.15" stroke-linecap="butt"/>
<line x1="407.9" y1="435" x2="414.5" y2="435" stroke="#6aace2" stroke-width="1.15" stroke-linecap="butt"/>
<line x1="407.9" y1="480.5" x2="414.5" y2="480.5" stroke="#6aace2" stroke-width="1.15" stroke-linecap="butt"/>
<line x1="432.5" y1="494.5" x2="432.5" y2="499" stroke="#6aace2" stroke-width="1.15" stroke-linecap="butt"/>
<line x1="429.2" y1="494.5" x2="435.8" y2="494.5" stroke="#6aace2" stroke-width="1.15" stroke-linecap="butt"/>
<line x1="429.2" y1="499" x2="435.8" y2="499" stroke="#6aace2" stroke-width="1.15" stroke-linecap="butt"/>
<polyline points="369.25,430.6 369.25,428.75 390.5,428.75 390.5,453.75" fill="none" stroke="#333" stroke-width="1.1" stroke-linejoin="round"/>
<polyline points="390.5,428.75 390.5,418.75 432.5,418.75 432.5,420.6" fill="none" stroke="#333" stroke-width="1.1" stroke-linejoin="round"/>
<polyline points="411.25,428 411.25,425.5 432.5,425.5 432.5,483.75" fill="none" stroke="#333" stroke-width="1.1" stroke-linejoin="round"/>
<text x="380.5" y="427.09" font-size="5" text-anchor="middle" fill="#1e1e1e">NS</text>
<rect x="411.8" y="414.5" width="1.4" height="1.4" fill="#3a3a3a"/>
<rect x="420.9" y="421.5" width="1.4" height="1.4" fill="#3a3a3a"/>
<line x1="354.9" y1="423.2" x2="354.9" y2="501.5" stroke="#1e1e1e" stroke-width="1.3" stroke-linecap="butt"/>
<line x1="354.3" y1="500.9" x2="447" y2="500.9" stroke="#1e1e1e" stroke-width="1.3" stroke-linecap="butt"/>
<line x1="352.2" y1="426.3" x2="354.9" y2="426.3" stroke="#1e1e1e" stroke-width="1" stroke-linecap="butt"/>
<text x="349.2" y="428.66" font-size="6.6" text-anchor="end" fill="#1e1e1e">2000</text>
<line x1="352.2" y1="445.2" x2="354.9" y2="445.2" stroke="#1e1e1e" stroke-width="1" stroke-linecap="butt"/>
<text x="349.2" y="447.56" font-size="6.6" text-anchor="end" fill="#1e1e1e">1500</text>
<line x1="352.2" y1="464" x2="354.9" y2="464" stroke="#1e1e1e" stroke-width="1" stroke-linecap="butt"/>
<text x="349.2" y="466.36" font-size="6.6" text-anchor="end" fill="#1e1e1e">1000</text>
<line x1="352.2" y1="482.3" x2="354.9" y2="482.3" stroke="#1e1e1e" stroke-width="1" stroke-linecap="butt"/>
<text x="349.2" y="484.66" font-size="6.6" text-anchor="end" fill="#1e1e1e">500</text>
<line x1="352.2" y1="500.9" x2="354.9" y2="500.9" stroke="#1e1e1e" stroke-width="1" stroke-linecap="butt"/>
<text x="349.2" y="503.26" font-size="6.6" text-anchor="end" fill="#1e1e1e">0</text>
<line x1="369.4" y1="500.9" x2="369.4" y2="503.2" stroke="#1e1e1e" stroke-width="1" stroke-linecap="butt"/>
<text x="369.4" y="512.75" font-size="6" text-anchor="middle" fill="#1e1e1e">-</text>
<line x1="390" y1="500.9" x2="390" y2="503.2" stroke="#1e1e1e" stroke-width="1" stroke-linecap="butt"/>
<text x="390" y="512.75" font-size="6" text-anchor="middle" fill="#1e1e1e">+</text>
<line x1="411.5" y1="500.9" x2="411.5" y2="503.2" stroke="#1e1e1e" stroke-width="1" stroke-linecap="butt"/>
<text x="411.5" y="512.75" font-size="6" text-anchor="middle" fill="#1e1e1e">-</text>
<line x1="432.2" y1="500.9" x2="432.2" y2="503.2" stroke="#1e1e1e" stroke-width="1" stroke-linecap="butt"/>
<text x="432.2" y="512.75" font-size="6" text-anchor="middle" fill="#1e1e1e">+</text>
<text x="372" y="409.12" font-size="9" text-anchor="start" fill="#1e1e1e" textLength="58" lengthAdjust="spacingAndGlyphs">After 2nd cycle</text>
<text x="359.2" y="523.36" font-size="6.6" text-anchor="start" fill="#1e1e1e" textLength="40.6" lengthAdjust="spacingAndGlyphs">Empty Vector</text>
<text x="411.5" y="523.36" font-size="6.6" text-anchor="start" fill="#1e1e1e" textLength="23.1" lengthAdjust="spacingAndGlyphs">14-3-3ε</text>
<text x="314" y="513.26" font-size="6.6" text-anchor="start" fill="#1e1e1e" textLength="41.2" lengthAdjust="spacingAndGlyphs">BTZ 0.5mg/kg</text>
<text transform="translate(328.9,494.5) rotate(-90)" font-size="8.2" fill="#1e1e1e" textLength="64.5" lengthAdjust="spacingAndGlyphs">Tumor volume (mm<tspan font-size="5.17" dy="-3.2">3</tspan><tspan dy="3.2">)</tspan></text>
</svg>
</body></html>
